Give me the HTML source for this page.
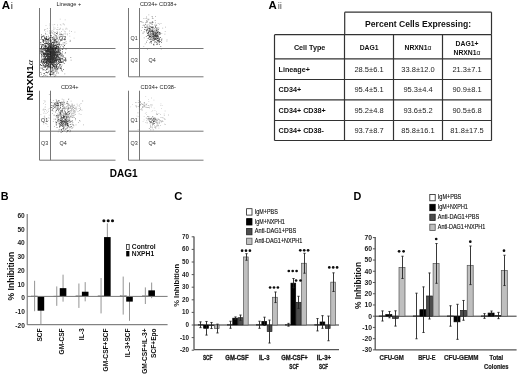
<!DOCTYPE html>
<html><head><meta charset="utf-8"><style>
html,body{margin:0;padding:0;background:#fff;}
svg{display:block;font-family:"Liberation Sans", sans-serif;}
</style></head><body>
<svg width="520" height="375" viewBox="0 0 520 375">
<defs><filter id="soft" x="0" y="0" width="1" height="1"><feGaussianBlur stdDeviation="0.4"/></filter></defs>
<rect width="520" height="375" fill="#fff"/>
<g filter="url(#soft)">
<rect width="520" height="375" fill="#fff"/>
<text x="1.8" y="9.4" font-size="11.6" font-weight="bold" text-anchor="start" fill="#000" >A<tspan font-size="9.8" font-weight="normal" fill="#222" dx="0.6">i</tspan></text>
<line x1="39.50" y1="8.00" x2="39.50" y2="76.80" stroke="#777" stroke-width="1"/>
<line x1="50.50" y1="8.00" x2="50.50" y2="76.80" stroke="#777" stroke-width="1"/>
<line x1="39.50" y1="48.50" x2="115.50" y2="48.50" stroke="#777" stroke-width="1"/>
<line x1="39.50" y1="76.80" x2="115.50" y2="76.80" stroke="#777" stroke-width="1"/>
<text x="56.5" y="6.2" font-size="5.6" font-weight="normal" text-anchor="start" fill="#222" >Lineage +</text>
<text x="41.0" y="39.6" font-size="5.4" font-weight="normal" text-anchor="start" fill="#333" >Q1</text>
<text x="59.0" y="39.6" font-size="5.4" font-weight="normal" text-anchor="start" fill="#333" >Q2</text>
<text x="59.5" y="62.2" font-size="5.4" font-weight="normal" text-anchor="start" fill="#333" >Q4</text>
<path d="M49.2 58.0h.8v.8h-.8zM49.4 51.5h.8v.8h-.8zM45.8 52.3h.8v.8h-.8zM56.1 57.3h.8v.8h-.8zM55.7 55.9h.8v.8h-.8zM52.5 55.4h.8v.8h-.8zM42.2 60.7h.8v.8h-.8zM53.0 57.9h.8v.8h-.8zM42.0 40.4h.8v.8h-.8zM46.1 50.3h.8v.8h-.8zM52.0 53.6h.8v.8h-.8zM53.1 49.0h.8v.8h-.8zM52.0 57.1h.8v.8h-.8zM47.2 67.4h.8v.8h-.8zM53.3 63.3h.8v.8h-.8zM47.4 48.2h.8v.8h-.8zM48.8 53.2h.8v.8h-.8zM53.7 55.9h.8v.8h-.8zM48.3 46.5h.8v.8h-.8zM47.9 63.5h.8v.8h-.8zM46.5 55.9h.8v.8h-.8zM52.6 42.4h.8v.8h-.8zM50.7 64.2h.8v.8h-.8zM40.4 51.5h.8v.8h-.8zM50.0 47.6h.8v.8h-.8zM53.0 53.5h.8v.8h-.8zM43.2 60.5h.8v.8h-.8zM53.8 61.4h.8v.8h-.8zM57.7 56.8h.8v.8h-.8zM51.1 43.9h.8v.8h-.8zM53.6 49.2h.8v.8h-.8zM48.2 44.1h.8v.8h-.8zM45.7 49.9h.8v.8h-.8zM56.9 38.2h.8v.8h-.8zM43.2 55.9h.8v.8h-.8zM57.7 58.5h.8v.8h-.8zM41.0 34.4h.8v.8h-.8zM52.3 48.3h.8v.8h-.8zM44.9 61.6h.8v.8h-.8zM56.0 55.2h.8v.8h-.8zM51.7 57.4h.8v.8h-.8zM58.5 58.8h.8v.8h-.8zM53.1 58.3h.8v.8h-.8zM42.7 64.0h.8v.8h-.8zM55.3 58.1h.8v.8h-.8zM40.6 49.1h.8v.8h-.8zM54.7 39.9h.8v.8h-.8zM49.6 62.0h.8v.8h-.8zM43.9 66.6h.8v.8h-.8zM53.3 52.8h.8v.8h-.8zM52.1 59.1h.8v.8h-.8zM51.1 62.9h.8v.8h-.8zM47.2 50.8h.8v.8h-.8zM55.7 54.2h.8v.8h-.8zM46.1 61.4h.8v.8h-.8zM57.8 50.5h.8v.8h-.8zM43.6 52.9h.8v.8h-.8zM49.8 51.7h.8v.8h-.8zM57.5 46.0h.8v.8h-.8zM56.8 44.1h.8v.8h-.8zM46.6 58.9h.8v.8h-.8zM56.1 60.7h.8v.8h-.8zM52.2 55.1h.8v.8h-.8zM51.3 58.5h.8v.8h-.8zM49.6 56.2h.8v.8h-.8zM53.4 54.0h.8v.8h-.8zM54.3 58.4h.8v.8h-.8zM60.6 56.5h.8v.8h-.8zM48.4 51.1h.8v.8h-.8zM50.4 61.2h.8v.8h-.8zM48.8 57.0h.8v.8h-.8zM59.7 34.0h.8v.8h-.8zM44.9 55.9h.8v.8h-.8zM52.5 55.9h.8v.8h-.8zM48.3 59.1h.8v.8h-.8zM51.9 49.9h.8v.8h-.8zM62.7 56.8h.8v.8h-.8zM47.7 53.2h.8v.8h-.8zM49.4 53.5h.8v.8h-.8zM55.5 44.9h.8v.8h-.8zM50.2 61.4h.8v.8h-.8zM54.8 65.6h.8v.8h-.8zM42.0 51.2h.8v.8h-.8zM48.8 58.9h.8v.8h-.8zM56.0 33.1h.8v.8h-.8zM55.9 42.7h.8v.8h-.8zM53.9 42.4h.8v.8h-.8zM51.4 63.3h.8v.8h-.8zM49.8 55.5h.8v.8h-.8zM54.5 55.1h.8v.8h-.8zM50.1 66.0h.8v.8h-.8zM55.7 51.7h.8v.8h-.8zM64.2 45.1h.8v.8h-.8zM55.1 51.9h.8v.8h-.8zM51.2 59.5h.8v.8h-.8zM51.6 59.0h.8v.8h-.8zM42.9 42.2h.8v.8h-.8zM53.6 46.5h.8v.8h-.8zM45.4 42.5h.8v.8h-.8zM56.8 59.8h.8v.8h-.8zM57.9 46.7h.8v.8h-.8zM50.5 45.1h.8v.8h-.8zM54.3 66.4h.8v.8h-.8zM46.0 66.2h.8v.8h-.8zM55.4 52.6h.8v.8h-.8zM40.6 65.0h.8v.8h-.8zM50.0 49.3h.8v.8h-.8zM52.5 57.2h.8v.8h-.8zM58.0 46.0h.8v.8h-.8zM56.2 65.6h.8v.8h-.8zM57.8 52.6h.8v.8h-.8zM46.8 61.9h.8v.8h-.8zM51.1 55.0h.8v.8h-.8zM57.6 51.9h.8v.8h-.8zM41.2 60.4h.8v.8h-.8zM52.1 49.2h.8v.8h-.8zM50.5 60.5h.8v.8h-.8zM50.9 64.3h.8v.8h-.8zM50.2 62.1h.8v.8h-.8zM58.0 66.6h.8v.8h-.8zM47.1 60.9h.8v.8h-.8zM41.1 45.5h.8v.8h-.8zM40.7 62.3h.8v.8h-.8zM44.3 53.9h.8v.8h-.8zM49.5 53.8h.8v.8h-.8zM47.5 55.8h.8v.8h-.8zM59.5 54.3h.8v.8h-.8zM53.2 61.8h.8v.8h-.8zM49.5 44.2h.8v.8h-.8zM47.7 62.4h.8v.8h-.8zM42.3 49.3h.8v.8h-.8zM55.5 60.2h.8v.8h-.8zM50.5 60.3h.8v.8h-.8zM51.3 44.8h.8v.8h-.8zM42.7 49.0h.8v.8h-.8zM55.1 49.6h.8v.8h-.8zM46.0 48.0h.8v.8h-.8zM42.8 53.1h.8v.8h-.8zM44.6 56.8h.8v.8h-.8zM47.3 38.9h.8v.8h-.8zM54.1 51.9h.8v.8h-.8zM52.0 50.4h.8v.8h-.8zM54.4 59.8h.8v.8h-.8zM53.8 56.5h.8v.8h-.8zM57.2 59.1h.8v.8h-.8zM52.8 37.7h.8v.8h-.8zM55.0 64.2h.8v.8h-.8zM49.0 50.3h.8v.8h-.8zM60.2 40.3h.8v.8h-.8zM52.8 72.9h.8v.8h-.8zM45.9 59.4h.8v.8h-.8zM59.9 53.1h.8v.8h-.8zM53.3 61.0h.8v.8h-.8zM46.0 53.3h.8v.8h-.8zM52.0 60.4h.8v.8h-.8zM50.3 52.5h.8v.8h-.8zM45.4 51.2h.8v.8h-.8zM55.0 54.8h.8v.8h-.8zM46.2 47.4h.8v.8h-.8zM63.8 62.9h.8v.8h-.8zM53.7 33.8h.8v.8h-.8zM53.6 57.7h.8v.8h-.8zM58.9 57.3h.8v.8h-.8zM50.2 58.1h.8v.8h-.8zM40.8 62.1h.8v.8h-.8zM52.1 48.5h.8v.8h-.8zM57.1 68.1h.8v.8h-.8zM43.5 48.8h.8v.8h-.8zM52.0 55.4h.8v.8h-.8zM48.5 46.4h.8v.8h-.8zM61.1 62.1h.8v.8h-.8zM44.5 43.5h.8v.8h-.8zM59.0 61.7h.8v.8h-.8zM59.6 60.3h.8v.8h-.8zM46.1 56.0h.8v.8h-.8zM39.7 48.2h.8v.8h-.8zM50.2 58.1h.8v.8h-.8zM46.9 53.0h.8v.8h-.8zM52.8 56.9h.8v.8h-.8zM53.7 55.6h.8v.8h-.8zM48.9 60.2h.8v.8h-.8zM50.7 47.6h.8v.8h-.8zM47.4 54.0h.8v.8h-.8zM50.0 55.2h.8v.8h-.8zM50.5 55.4h.8v.8h-.8zM49.8 44.2h.8v.8h-.8zM52.6 62.2h.8v.8h-.8zM52.7 52.5h.8v.8h-.8zM52.7 46.5h.8v.8h-.8zM41.0 54.5h.8v.8h-.8zM45.8 59.8h.8v.8h-.8zM45.1 33.5h.8v.8h-.8zM45.3 66.3h.8v.8h-.8zM48.6 43.3h.8v.8h-.8zM46.7 58.1h.8v.8h-.8zM53.0 55.4h.8v.8h-.8zM57.9 59.5h.8v.8h-.8zM50.4 58.7h.8v.8h-.8zM58.8 61.6h.8v.8h-.8zM55.6 45.6h.8v.8h-.8zM49.8 59.7h.8v.8h-.8zM49.0 62.3h.8v.8h-.8zM53.5 61.1h.8v.8h-.8zM49.4 73.9h.8v.8h-.8zM56.7 52.3h.8v.8h-.8zM51.0 74.2h.8v.8h-.8zM48.8 60.8h.8v.8h-.8zM55.4 54.1h.8v.8h-.8zM44.7 55.5h.8v.8h-.8zM52.3 62.8h.8v.8h-.8zM54.4 54.2h.8v.8h-.8zM54.8 58.2h.8v.8h-.8zM51.5 54.4h.8v.8h-.8zM49.3 59.4h.8v.8h-.8zM45.2 49.1h.8v.8h-.8zM50.5 42.6h.8v.8h-.8zM48.3 38.3h.8v.8h-.8zM47.1 58.4h.8v.8h-.8zM53.3 53.6h.8v.8h-.8zM49.3 42.9h.8v.8h-.8zM59.6 58.0h.8v.8h-.8zM56.0 47.1h.8v.8h-.8zM49.6 39.8h.8v.8h-.8zM54.4 61.3h.8v.8h-.8zM41.0 53.6h.8v.8h-.8zM53.7 40.3h.8v.8h-.8zM41.4 45.7h.8v.8h-.8zM47.4 43.1h.8v.8h-.8zM50.7 55.9h.8v.8h-.8zM53.7 59.5h.8v.8h-.8zM58.0 63.1h.8v.8h-.8zM43.9 50.1h.8v.8h-.8zM45.2 45.6h.8v.8h-.8zM50.1 54.0h.8v.8h-.8zM53.0 41.6h.8v.8h-.8zM44.3 53.8h.8v.8h-.8zM49.5 51.6h.8v.8h-.8zM50.2 48.1h.8v.8h-.8zM54.0 56.8h.8v.8h-.8zM50.1 48.8h.8v.8h-.8zM49.6 32.8h.8v.8h-.8zM45.6 54.3h.8v.8h-.8zM43.0 55.6h.8v.8h-.8zM51.2 43.3h.8v.8h-.8zM49.2 51.6h.8v.8h-.8zM52.8 58.8h.8v.8h-.8zM50.3 47.4h.8v.8h-.8zM49.8 53.5h.8v.8h-.8zM54.2 56.3h.8v.8h-.8zM46.9 43.4h.8v.8h-.8zM48.6 48.2h.8v.8h-.8zM44.9 53.1h.8v.8h-.8zM48.0 54.8h.8v.8h-.8zM53.1 50.8h.8v.8h-.8zM62.1 51.5h.8v.8h-.8zM56.0 54.9h.8v.8h-.8zM56.1 35.5h.8v.8h-.8zM46.7 55.9h.8v.8h-.8zM53.5 72.2h.8v.8h-.8zM52.1 64.0h.8v.8h-.8zM54.3 61.4h.8v.8h-.8zM53.1 52.8h.8v.8h-.8zM53.0 45.6h.8v.8h-.8zM56.4 46.1h.8v.8h-.8zM51.7 70.5h.8v.8h-.8zM49.4 54.2h.8v.8h-.8zM56.3 54.2h.8v.8h-.8zM46.5 56.0h.8v.8h-.8zM53.4 59.5h.8v.8h-.8zM46.6 67.7h.8v.8h-.8zM58.8 54.1h.8v.8h-.8zM51.8 50.7h.8v.8h-.8zM57.6 48.5h.8v.8h-.8zM53.9 50.3h.8v.8h-.8zM47.0 59.6h.8v.8h-.8zM57.2 53.9h.8v.8h-.8zM47.1 60.3h.8v.8h-.8zM50.3 56.4h.8v.8h-.8zM58.1 62.8h.8v.8h-.8zM47.9 71.8h.8v.8h-.8zM50.5 60.1h.8v.8h-.8zM47.3 53.7h.8v.8h-.8zM41.8 67.9h.8v.8h-.8zM57.3 44.5h.8v.8h-.8zM43.0 41.4h.8v.8h-.8zM56.4 50.4h.8v.8h-.8zM50.2 51.6h.8v.8h-.8zM49.9 45.5h.8v.8h-.8zM50.6 42.8h.8v.8h-.8zM50.1 56.4h.8v.8h-.8zM52.8 52.2h.8v.8h-.8zM46.0 55.2h.8v.8h-.8zM48.1 66.2h.8v.8h-.8zM54.3 53.1h.8v.8h-.8zM48.1 48.5h.8v.8h-.8zM45.8 51.2h.8v.8h-.8zM52.0 58.0h.8v.8h-.8zM53.3 70.4h.8v.8h-.8zM47.0 54.1h.8v.8h-.8zM64.5 39.4h.8v.8h-.8zM47.9 55.3h.8v.8h-.8zM51.3 57.2h.8v.8h-.8zM49.3 56.9h.8v.8h-.8zM50.8 60.0h.8v.8h-.8zM41.0 47.1h.8v.8h-.8zM50.5 46.0h.8v.8h-.8zM45.3 58.9h.8v.8h-.8zM47.3 59.0h.8v.8h-.8zM54.2 56.4h.8v.8h-.8zM53.0 53.2h.8v.8h-.8zM43.5 53.8h.8v.8h-.8zM52.8 49.9h.8v.8h-.8zM50.0 59.8h.8v.8h-.8zM46.1 59.0h.8v.8h-.8zM59.8 49.7h.8v.8h-.8zM51.2 52.8h.8v.8h-.8zM58.2 56.5h.8v.8h-.8zM55.0 48.6h.8v.8h-.8zM50.4 53.9h.8v.8h-.8zM41.6 65.2h.8v.8h-.8zM55.0 40.4h.8v.8h-.8zM54.2 53.0h.8v.8h-.8zM52.7 56.9h.8v.8h-.8zM43.0 52.3h.8v.8h-.8zM58.0 49.5h.8v.8h-.8zM45.4 43.4h.8v.8h-.8zM44.4 56.6h.8v.8h-.8zM59.0 57.3h.8v.8h-.8zM51.7 71.4h.8v.8h-.8zM47.9 48.7h.8v.8h-.8zM53.1 58.3h.8v.8h-.8zM45.4 44.9h.8v.8h-.8zM52.0 55.9h.8v.8h-.8zM44.0 52.4h.8v.8h-.8zM47.8 57.6h.8v.8h-.8zM49.9 53.3h.8v.8h-.8zM48.7 62.2h.8v.8h-.8zM57.5 51.1h.8v.8h-.8zM54.7 48.1h.8v.8h-.8zM50.9 59.8h.8v.8h-.8zM58.1 51.0h.8v.8h-.8zM50.1 55.5h.8v.8h-.8zM43.0 54.1h.8v.8h-.8zM47.1 56.9h.8v.8h-.8zM44.9 38.6h.8v.8h-.8zM50.7 56.0h.8v.8h-.8zM47.8 60.9h.8v.8h-.8zM49.1 49.3h.8v.8h-.8zM52.9 41.8h.8v.8h-.8zM47.1 53.8h.8v.8h-.8zM54.7 52.7h.8v.8h-.8zM52.0 48.9h.8v.8h-.8zM52.0 67.0h.8v.8h-.8zM47.1 72.5h.8v.8h-.8zM47.3 54.1h.8v.8h-.8zM51.4 62.0h.8v.8h-.8zM44.3 37.6h.8v.8h-.8zM53.5 60.2h.8v.8h-.8zM53.6 74.5h.8v.8h-.8zM51.5 56.0h.8v.8h-.8zM55.1 56.9h.8v.8h-.8zM58.8 44.3h.8v.8h-.8zM54.6 51.1h.8v.8h-.8zM55.1 70.8h.8v.8h-.8zM50.5 52.0h.8v.8h-.8zM48.0 47.5h.8v.8h-.8zM47.3 59.0h.8v.8h-.8zM50.7 54.5h.8v.8h-.8zM49.6 61.1h.8v.8h-.8zM53.0 52.9h.8v.8h-.8zM53.8 52.8h.8v.8h-.8zM44.7 65.4h.8v.8h-.8zM52.8 46.5h.8v.8h-.8zM55.9 56.7h.8v.8h-.8zM42.7 66.6h.8v.8h-.8zM52.2 61.0h.8v.8h-.8zM51.5 52.8h.8v.8h-.8zM42.8 61.6h.8v.8h-.8zM50.7 51.8h.8v.8h-.8zM52.3 54.6h.8v.8h-.8zM53.9 51.1h.8v.8h-.8zM50.3 37.3h.8v.8h-.8zM48.4 59.3h.8v.8h-.8zM57.2 51.2h.8v.8h-.8zM49.9 66.4h.8v.8h-.8zM48.9 59.7h.8v.8h-.8zM58.9 54.3h.8v.8h-.8zM56.6 48.5h.8v.8h-.8zM51.5 53.4h.8v.8h-.8zM51.1 62.8h.8v.8h-.8zM62.4 48.8h.8v.8h-.8zM47.6 57.9h.8v.8h-.8zM45.2 57.9h.8v.8h-.8zM53.4 51.8h.8v.8h-.8zM53.2 41.9h.8v.8h-.8zM54.3 42.0h.8v.8h-.8zM47.0 49.7h.8v.8h-.8zM48.5 60.7h.8v.8h-.8zM50.9 50.9h.8v.8h-.8zM53.2 66.3h.8v.8h-.8zM50.5 56.9h.8v.8h-.8zM56.7 56.1h.8v.8h-.8zM44.1 73.4h.8v.8h-.8zM61.5 38.5h.8v.8h-.8zM50.3 57.3h.8v.8h-.8zM55.3 59.2h.8v.8h-.8zM49.1 45.8h.8v.8h-.8zM51.0 62.1h.8v.8h-.8zM45.1 46.0h.8v.8h-.8zM50.4 38.9h.8v.8h-.8zM49.2 50.6h.8v.8h-.8zM52.8 48.5h.8v.8h-.8zM46.1 50.9h.8v.8h-.8zM50.3 48.8h.8v.8h-.8zM50.6 59.9h.8v.8h-.8zM56.4 67.3h.8v.8h-.8zM46.6 50.7h.8v.8h-.8zM46.9 53.7h.8v.8h-.8zM53.1 43.4h.8v.8h-.8zM52.8 53.8h.8v.8h-.8zM41.4 56.3h.8v.8h-.8zM56.5 39.4h.8v.8h-.8zM54.5 55.6h.8v.8h-.8zM52.9 57.4h.8v.8h-.8zM57.0 52.3h.8v.8h-.8zM54.9 50.8h.8v.8h-.8zM54.1 47.7h.8v.8h-.8zM50.0 67.5h.8v.8h-.8zM52.7 52.8h.8v.8h-.8zM44.8 47.8h.8v.8h-.8zM51.5 61.3h.8v.8h-.8zM52.6 58.1h.8v.8h-.8zM50.3 64.5h.8v.8h-.8zM48.5 49.7h.8v.8h-.8zM54.9 54.5h.8v.8h-.8zM49.1 49.5h.8v.8h-.8zM49.2 58.9h.8v.8h-.8zM52.3 44.6h.8v.8h-.8zM52.6 55.4h.8v.8h-.8zM45.5 60.0h.8v.8h-.8zM49.1 51.4h.8v.8h-.8zM54.5 64.3h.8v.8h-.8zM47.1 57.4h.8v.8h-.8zM46.1 72.1h.8v.8h-.8zM48.0 63.3h.8v.8h-.8zM47.3 60.3h.8v.8h-.8zM61.6 34.2h.8v.8h-.8zM48.3 57.9h.8v.8h-.8zM50.0 48.8h.8v.8h-.8zM61.3 54.6h.8v.8h-.8zM42.3 60.7h.8v.8h-.8zM41.9 63.0h.8v.8h-.8zM47.6 55.1h.8v.8h-.8zM56.8 54.9h.8v.8h-.8zM43.5 40.8h.8v.8h-.8zM56.4 59.8h.8v.8h-.8zM46.4 60.7h.8v.8h-.8zM53.0 59.1h.8v.8h-.8zM55.0 59.7h.8v.8h-.8zM54.9 34.8h.8v.8h-.8zM51.3 57.8h.8v.8h-.8zM63.3 46.6h.8v.8h-.8zM48.9 54.3h.8v.8h-.8zM54.9 50.5h.8v.8h-.8zM56.2 47.9h.8v.8h-.8zM51.8 49.9h.8v.8h-.8zM51.3 48.6h.8v.8h-.8zM42.5 62.5h.8v.8h-.8zM52.0 49.6h.8v.8h-.8zM51.5 61.7h.8v.8h-.8zM45.6 53.1h.8v.8h-.8zM53.2 58.1h.8v.8h-.8zM48.8 37.6h.8v.8h-.8zM56.7 56.6h.8v.8h-.8zM50.6 51.8h.8v.8h-.8zM51.8 50.7h.8v.8h-.8zM45.4 48.2h.8v.8h-.8zM47.5 49.2h.8v.8h-.8zM44.7 59.0h.8v.8h-.8zM44.0 59.1h.8v.8h-.8zM45.4 56.7h.8v.8h-.8zM57.4 55.6h.8v.8h-.8zM46.8 54.4h.8v.8h-.8zM51.2 40.5h.8v.8h-.8zM47.5 55.3h.8v.8h-.8zM48.2 54.6h.8v.8h-.8zM54.2 60.0h.8v.8h-.8zM55.0 58.6h.8v.8h-.8zM49.1 53.9h.8v.8h-.8zM49.1 51.6h.8v.8h-.8zM49.6 40.5h.8v.8h-.8zM48.8 53.8h.8v.8h-.8zM45.6 53.8h.8v.8h-.8zM53.1 52.7h.8v.8h-.8zM60.9 33.7h.8v.8h-.8zM49.5 39.8h.8v.8h-.8zM55.4 74.7h.8v.8h-.8zM53.1 51.6h.8v.8h-.8zM53.3 36.5h.8v.8h-.8zM54.8 56.9h.8v.8h-.8zM50.6 49.4h.8v.8h-.8zM53.7 50.2h.8v.8h-.8zM51.6 50.0h.8v.8h-.8zM51.5 59.9h.8v.8h-.8zM46.1 53.7h.8v.8h-.8zM53.6 55.1h.8v.8h-.8zM56.7 69.5h.8v.8h-.8zM46.0 39.0h.8v.8h-.8zM54.8 65.9h.8v.8h-.8zM55.1 60.3h.8v.8h-.8zM47.4 48.4h.8v.8h-.8zM54.9 46.9h.8v.8h-.8zM41.4 46.2h.8v.8h-.8zM63.0 69.0h.8v.8h-.8zM47.1 48.3h.8v.8h-.8zM51.7 48.2h.8v.8h-.8zM57.1 53.4h.8v.8h-.8zM45.1 64.2h.8v.8h-.8zM47.6 55.7h.8v.8h-.8zM50.4 51.5h.8v.8h-.8zM52.1 48.6h.8v.8h-.8zM41.3 36.8h.8v.8h-.8zM44.2 48.1h.8v.8h-.8zM50.4 54.4h.8v.8h-.8zM53.3 54.9h.8v.8h-.8zM46.5 48.5h.8v.8h-.8zM39.9 52.7h.8v.8h-.8zM52.9 58.1h.8v.8h-.8zM49.9 52.6h.8v.8h-.8zM55.2 54.1h.8v.8h-.8zM54.2 58.5h.8v.8h-.8zM51.6 64.2h.8v.8h-.8zM47.6 51.2h.8v.8h-.8zM46.5 47.8h.8v.8h-.8zM58.3 67.7h.8v.8h-.8zM50.6 58.4h.8v.8h-.8zM56.4 60.3h.8v.8h-.8zM56.5 44.1h.8v.8h-.8zM47.3 57.5h.8v.8h-.8zM57.7 54.8h.8v.8h-.8zM46.2 51.2h.8v.8h-.8zM47.2 47.3h.8v.8h-.8zM58.0 49.1h.8v.8h-.8zM50.6 70.9h.8v.8h-.8zM56.4 56.6h.8v.8h-.8zM47.4 57.2h.8v.8h-.8zM58.6 58.9h.8v.8h-.8zM56.8 54.8h.8v.8h-.8zM53.1 52.4h.8v.8h-.8zM52.6 64.1h.8v.8h-.8zM43.3 53.5h.8v.8h-.8zM51.7 49.5h.8v.8h-.8zM49.0 60.1h.8v.8h-.8zM60.5 58.9h.8v.8h-.8zM52.1 41.9h.8v.8h-.8zM60.1 54.6h.8v.8h-.8zM50.3 45.3h.8v.8h-.8zM50.2 45.5h.8v.8h-.8zM50.9 57.6h.8v.8h-.8zM50.7 56.2h.8v.8h-.8zM46.2 65.2h.8v.8h-.8zM47.2 39.8h.8v.8h-.8zM49.6 48.0h.8v.8h-.8zM45.5 51.2h.8v.8h-.8zM52.0 44.8h.8v.8h-.8zM49.8 65.1h.8v.8h-.8zM53.9 52.8h.8v.8h-.8zM51.1 53.1h.8v.8h-.8zM50.3 59.7h.8v.8h-.8zM50.0 35.2h.8v.8h-.8zM50.4 47.1h.8v.8h-.8zM53.8 49.2h.8v.8h-.8zM51.2 71.0h.8v.8h-.8zM45.3 45.2h.8v.8h-.8zM43.4 35.3h.8v.8h-.8zM41.1 56.8h.8v.8h-.8zM47.3 39.4h.8v.8h-.8zM43.1 58.8h.8v.8h-.8zM46.6 51.1h.8v.8h-.8zM52.2 64.6h.8v.8h-.8zM60.2 62.1h.8v.8h-.8zM51.2 55.4h.8v.8h-.8zM59.5 65.1h.8v.8h-.8zM48.9 57.6h.8v.8h-.8zM51.9 54.4h.8v.8h-.8zM48.0 43.7h.8v.8h-.8zM47.8 42.0h.8v.8h-.8zM56.6 58.2h.8v.8h-.8zM44.5 64.9h.8v.8h-.8zM55.0 39.1h.8v.8h-.8zM59.7 60.3h.8v.8h-.8zM60.8 44.4h.8v.8h-.8zM53.2 57.3h.8v.8h-.8zM51.5 55.3h.8v.8h-.8zM55.8 42.3h.8v.8h-.8zM44.3 43.1h.8v.8h-.8zM47.7 49.3h.8v.8h-.8zM52.3 56.1h.8v.8h-.8zM50.7 48.7h.8v.8h-.8zM48.3 61.4h.8v.8h-.8zM54.3 54.8h.8v.8h-.8zM48.9 66.1h.8v.8h-.8zM47.5 59.1h.8v.8h-.8zM56.3 51.9h.8v.8h-.8zM54.6 45.3h.8v.8h-.8zM55.6 55.6h.8v.8h-.8zM42.6 59.2h.8v.8h-.8zM46.0 64.0h.8v.8h-.8zM47.1 52.7h.8v.8h-.8zM51.9 51.4h.8v.8h-.8zM51.8 49.7h.8v.8h-.8zM53.9 54.0h.8v.8h-.8zM51.6 32.5h.8v.8h-.8zM56.3 54.2h.8v.8h-.8zM41.6 54.7h.8v.8h-.8zM52.8 62.4h.8v.8h-.8zM45.1 66.1h.8v.8h-.8zM49.7 72.7h.8v.8h-.8zM49.8 59.3h.8v.8h-.8zM48.7 45.3h.8v.8h-.8zM56.0 61.1h.8v.8h-.8zM58.2 60.7h.8v.8h-.8zM47.6 41.0h.8v.8h-.8zM47.2 48.7h.8v.8h-.8zM46.4 58.5h.8v.8h-.8zM52.1 51.9h.8v.8h-.8zM51.4 52.9h.8v.8h-.8zM51.6 59.9h.8v.8h-.8zM55.3 48.6h.8v.8h-.8zM43.0 65.1h.8v.8h-.8zM51.1 62.6h.8v.8h-.8zM42.3 51.4h.8v.8h-.8zM50.6 42.8h.8v.8h-.8zM47.9 59.7h.8v.8h-.8zM55.9 66.4h.8v.8h-.8zM46.2 43.1h.8v.8h-.8zM53.1 61.3h.8v.8h-.8zM51.5 43.8h.8v.8h-.8zM54.4 60.2h.8v.8h-.8zM53.3 50.2h.8v.8h-.8zM52.0 60.2h.8v.8h-.8zM47.7 39.6h.8v.8h-.8zM52.1 57.8h.8v.8h-.8zM50.6 60.9h.8v.8h-.8zM47.6 53.4h.8v.8h-.8zM49.0 58.5h.8v.8h-.8zM58.5 52.0h.8v.8h-.8zM60.8 65.9h.8v.8h-.8zM54.5 58.6h.8v.8h-.8zM59.4 52.6h.8v.8h-.8zM49.9 45.7h.8v.8h-.8zM52.9 64.5h.8v.8h-.8zM53.2 57.3h.8v.8h-.8zM49.5 55.3h.8v.8h-.8zM43.4 62.2h.8v.8h-.8zM48.5 45.4h.8v.8h-.8zM46.7 47.6h.8v.8h-.8zM54.8 62.3h.8v.8h-.8zM43.7 61.2h.8v.8h-.8zM54.9 49.5h.8v.8h-.8zM43.1 48.2h.8v.8h-.8zM47.3 56.7h.8v.8h-.8zM48.7 38.2h.8v.8h-.8zM51.7 42.0h.8v.8h-.8zM55.0 44.6h.8v.8h-.8zM47.0 47.3h.8v.8h-.8zM47.8 64.1h.8v.8h-.8zM54.8 58.7h.8v.8h-.8zM52.1 41.9h.8v.8h-.8zM47.9 49.7h.8v.8h-.8zM45.6 58.0h.8v.8h-.8zM46.8 48.5h.8v.8h-.8zM45.3 38.0h.8v.8h-.8zM53.5 64.4h.8v.8h-.8zM51.4 46.4h.8v.8h-.8zM56.6 56.3h.8v.8h-.8zM55.1 65.5h.8v.8h-.8zM56.1 50.6h.8v.8h-.8zM55.8 60.1h.8v.8h-.8zM42.8 50.8h.8v.8h-.8zM43.4 53.1h.8v.8h-.8zM53.4 45.7h.8v.8h-.8zM40.2 64.1h.8v.8h-.8zM52.4 65.5h.8v.8h-.8zM43.9 62.3h.8v.8h-.8zM60.9 69.7h.8v.8h-.8zM49.4 56.1h.8v.8h-.8zM49.7 61.8h.8v.8h-.8zM55.7 54.7h.8v.8h-.8zM43.7 59.8h.8v.8h-.8zM48.2 58.9h.8v.8h-.8zM51.8 66.7h.8v.8h-.8zM56.2 50.5h.8v.8h-.8zM52.2 67.8h.8v.8h-.8zM47.8 57.4h.8v.8h-.8zM56.5 63.8h.8v.8h-.8zM53.1 43.7h.8v.8h-.8zM44.2 55.9h.8v.8h-.8zM52.4 73.9h.8v.8h-.8zM46.2 62.9h.8v.8h-.8zM54.4 41.0h.8v.8h-.8zM46.4 55.3h.8v.8h-.8zM48.0 52.8h.8v.8h-.8zM52.9 47.7h.8v.8h-.8zM52.8 49.0h.8v.8h-.8zM47.8 58.2h.8v.8h-.8zM47.6 56.2h.8v.8h-.8zM58.5 54.2h.8v.8h-.8zM49.8 59.7h.8v.8h-.8zM48.7 62.4h.8v.8h-.8zM44.1 58.8h.8v.8h-.8zM47.9 47.8h.8v.8h-.8zM59.3 47.4h.8v.8h-.8zM59.3 59.1h.8v.8h-.8zM57.8 46.4h.8v.8h-.8zM56.5 65.4h.8v.8h-.8zM49.9 53.0h.8v.8h-.8zM62.8 55.4h.8v.8h-.8zM48.4 49.1h.8v.8h-.8zM52.7 56.6h.8v.8h-.8zM51.4 67.4h.8v.8h-.8zM48.9 57.7h.8v.8h-.8zM57.8 46.2h.8v.8h-.8zM55.7 68.3h.8v.8h-.8zM43.7 45.4h.8v.8h-.8zM45.3 39.6h.8v.8h-.8zM52.8 39.5h.8v.8h-.8zM53.0 65.3h.8v.8h-.8zM42.4 51.5h.8v.8h-.8zM40.9 60.1h.8v.8h-.8zM46.8 51.9h.8v.8h-.8zM50.8 58.3h.8v.8h-.8zM48.8 54.1h.8v.8h-.8zM47.8 54.9h.8v.8h-.8zM44.6 54.5h.8v.8h-.8zM40.8 50.2h.8v.8h-.8zM60.1 54.6h.8v.8h-.8zM44.2 56.0h.8v.8h-.8zM45.6 41.1h.8v.8h-.8zM46.8 59.7h.8v.8h-.8zM52.4 53.2h.8v.8h-.8zM45.9 45.6h.8v.8h-.8zM57.2 55.9h.8v.8h-.8zM45.7 37.5h.8v.8h-.8zM43.7 73.3h.8v.8h-.8zM44.8 53.4h.8v.8h-.8zM51.6 52.8h.8v.8h-.8zM49.1 43.3h.8v.8h-.8zM45.2 67.2h.8v.8h-.8zM46.7 60.6h.8v.8h-.8zM42.0 51.9h.8v.8h-.8zM51.8 62.1h.8v.8h-.8zM44.9 58.6h.8v.8h-.8zM52.4 48.2h.8v.8h-.8zM52.9 47.0h.8v.8h-.8zM46.5 53.9h.8v.8h-.8zM45.5 42.6h.8v.8h-.8zM48.4 60.0h.8v.8h-.8zM48.5 63.9h.8v.8h-.8zM44.7 43.8h.8v.8h-.8zM58.3 57.1h.8v.8h-.8zM55.2 47.6h.8v.8h-.8zM54.5 56.0h.8v.8h-.8zM53.7 54.2h.8v.8h-.8zM56.5 48.9h.8v.8h-.8zM45.7 42.5h.8v.8h-.8zM56.3 48.2h.8v.8h-.8zM45.3 46.7h.8v.8h-.8zM48.3 44.1h.8v.8h-.8zM49.0 49.1h.8v.8h-.8zM47.7 46.5h.8v.8h-.8zM50.7 50.4h.8v.8h-.8zM51.1 55.9h.8v.8h-.8zM52.2 36.9h.8v.8h-.8zM47.8 47.8h.8v.8h-.8zM54.4 41.7h.8v.8h-.8zM46.9 51.7h.8v.8h-.8zM48.8 61.7h.8v.8h-.8zM48.3 61.5h.8v.8h-.8zM43.2 39.9h.8v.8h-.8zM56.6 57.4h.8v.8h-.8zM52.9 55.0h.8v.8h-.8zM52.9 44.5h.8v.8h-.8zM55.2 49.8h.8v.8h-.8zM55.4 54.7h.8v.8h-.8zM40.6 44.0h.8v.8h-.8zM56.1 52.9h.8v.8h-.8zM48.5 55.9h.8v.8h-.8zM48.4 49.8h.8v.8h-.8zM51.0 55.1h.8v.8h-.8zM58.1 54.4h.8v.8h-.8zM59.9 68.1h.8v.8h-.8zM59.1 62.3h.8v.8h-.8zM51.2 55.1h.8v.8h-.8zM49.8 48.3h.8v.8h-.8zM50.2 49.0h.8v.8h-.8zM58.7 58.2h.8v.8h-.8zM48.3 39.1h.8v.8h-.8zM50.2 50.8h.8v.8h-.8zM45.1 45.1h.8v.8h-.8zM50.2 74.1h.8v.8h-.8zM50.3 52.8h.8v.8h-.8zM57.7 55.0h.8v.8h-.8zM51.3 51.1h.8v.8h-.8zM47.5 65.7h.8v.8h-.8zM55.5 67.4h.8v.8h-.8zM48.8 54.2h.8v.8h-.8zM46.1 61.5h.8v.8h-.8zM43.5 58.4h.8v.8h-.8zM56.0 65.0h.8v.8h-.8zM45.8 62.5h.8v.8h-.8zM46.9 48.1h.8v.8h-.8zM43.9 63.0h.8v.8h-.8zM58.7 49.4h.8v.8h-.8zM46.7 51.4h.8v.8h-.8zM63.0 61.8h.8v.8h-.8zM47.8 40.0h.8v.8h-.8zM47.1 63.3h.8v.8h-.8zM59.8 51.9h.8v.8h-.8zM47.0 50.0h.8v.8h-.8zM41.1 61.1h.8v.8h-.8zM45.1 62.3h.8v.8h-.8zM42.0 44.1h.8v.8h-.8zM51.9 48.0h.8v.8h-.8zM54.4 54.1h.8v.8h-.8zM44.6 58.9h.8v.8h-.8zM54.7 39.1h.8v.8h-.8zM59.6 57.9h.8v.8h-.8zM54.3 39.5h.8v.8h-.8zM46.9 51.3h.8v.8h-.8zM55.9 42.6h.8v.8h-.8zM46.1 38.2h.8v.8h-.8zM49.3 56.7h.8v.8h-.8zM42.1 49.4h.8v.8h-.8zM53.1 66.4h.8v.8h-.8zM53.8 51.6h.8v.8h-.8zM44.6 46.7h.8v.8h-.8zM47.2 55.1h.8v.8h-.8zM50.3 67.0h.8v.8h-.8zM51.9 45.6h.8v.8h-.8zM58.2 61.4h.8v.8h-.8zM51.0 48.4h.8v.8h-.8zM41.1 46.0h.8v.8h-.8zM55.1 47.7h.8v.8h-.8zM43.9 55.5h.8v.8h-.8zM51.7 58.7h.8v.8h-.8zM53.8 65.0h.8v.8h-.8zM46.3 61.6h.8v.8h-.8zM45.6 59.4h.8v.8h-.8zM51.4 55.9h.8v.8h-.8zM55.3 53.9h.8v.8h-.8zM56.1 60.8h.8v.8h-.8zM51.2 49.6h.8v.8h-.8zM46.7 49.9h.8v.8h-.8zM49.5 53.8h.8v.8h-.8zM65.4 59.0h.8v.8h-.8zM54.3 47.3h.8v.8h-.8zM46.9 51.5h.8v.8h-.8zM51.5 45.9h.8v.8h-.8zM58.6 49.6h.8v.8h-.8zM55.9 35.8h.8v.8h-.8zM50.5 56.2h.8v.8h-.8zM51.5 58.7h.8v.8h-.8zM51.9 55.3h.8v.8h-.8zM41.0 48.4h.8v.8h-.8zM52.0 52.5h.8v.8h-.8zM46.4 49.5h.8v.8h-.8zM59.7 67.5h.8v.8h-.8zM50.2 64.0h.8v.8h-.8zM42.6 38.9h.8v.8h-.8zM48.1 47.2h.8v.8h-.8zM47.7 55.5h.8v.8h-.8zM65.6 48.8h.8v.8h-.8zM50.7 56.2h.8v.8h-.8zM50.3 61.3h.8v.8h-.8zM59.4 44.3h.8v.8h-.8zM51.3 51.9h.8v.8h-.8zM52.3 42.1h.8v.8h-.8zM41.7 35.9h.8v.8h-.8zM53.1 55.5h.8v.8h-.8zM50.9 35.5h.8v.8h-.8zM48.6 48.1h.8v.8h-.8zM43.4 46.9h.8v.8h-.8zM54.0 58.2h.8v.8h-.8zM50.4 58.0h.8v.8h-.8zM47.5 54.6h.8v.8h-.8zM50.7 58.3h.8v.8h-.8zM50.2 52.9h.8v.8h-.8zM49.8 49.0h.8v.8h-.8zM61.7 58.0h.8v.8h-.8zM52.6 71.9h.8v.8h-.8zM57.5 41.9h.8v.8h-.8zM54.0 60.5h.8v.8h-.8zM59.9 64.3h.8v.8h-.8zM54.4 44.8h.8v.8h-.8zM46.1 56.1h.8v.8h-.8zM53.0 46.0h.8v.8h-.8zM48.6 50.9h.8v.8h-.8zM50.8 56.6h.8v.8h-.8zM49.1 44.4h.8v.8h-.8zM56.7 66.4h.8v.8h-.8zM50.0 62.0h.8v.8h-.8zM52.7 59.1h.8v.8h-.8zM52.9 48.0h.8v.8h-.8zM53.4 61.9h.8v.8h-.8zM46.0 69.3h.8v.8h-.8zM60.9 68.2h.8v.8h-.8zM60.4 59.8h.8v.8h-.8zM48.8 49.3h.8v.8h-.8zM46.4 54.9h.8v.8h-.8zM50.3 59.2h.8v.8h-.8zM40.4 72.0h.8v.8h-.8zM61.9 53.8h.8v.8h-.8zM53.9 57.7h.8v.8h-.8zM51.9 52.4h.8v.8h-.8zM49.9 47.6h.8v.8h-.8zM51.4 53.8h.8v.8h-.8zM52.1 47.3h.8v.8h-.8zM50.7 54.4h.8v.8h-.8zM53.5 45.7h.8v.8h-.8zM52.6 61.7h.8v.8h-.8zM53.5 51.1h.8v.8h-.8zM48.0 52.2h.8v.8h-.8zM54.1 66.1h.8v.8h-.8zM49.7 49.0h.8v.8h-.8zM52.4 55.6h.8v.8h-.8zM46.0 48.2h.8v.8h-.8zM50.0 59.2h.8v.8h-.8zM44.5 46.1h.8v.8h-.8zM53.0 44.4h.8v.8h-.8zM51.0 56.7h.8v.8h-.8zM49.9 46.1h.8v.8h-.8zM50.2 51.4h.8v.8h-.8zM52.2 47.5h.8v.8h-.8zM56.0 40.9h.8v.8h-.8zM49.6 54.1h.8v.8h-.8zM55.3 49.3h.8v.8h-.8zM53.2 49.6h.8v.8h-.8zM54.2 67.6h.8v.8h-.8zM48.5 57.5h.8v.8h-.8zM45.9 61.6h.8v.8h-.8zM56.6 54.3h.8v.8h-.8zM44.8 57.1h.8v.8h-.8zM56.2 62.5h.8v.8h-.8zM54.6 39.7h.8v.8h-.8zM47.1 65.1h.8v.8h-.8zM44.4 62.8h.8v.8h-.8zM59.9 59.9h.8v.8h-.8zM56.1 51.4h.8v.8h-.8zM44.4 53.2h.8v.8h-.8zM49.5 53.6h.8v.8h-.8zM54.0 52.9h.8v.8h-.8zM51.5 57.3h.8v.8h-.8zM50.5 68.4h.8v.8h-.8zM52.7 54.7h.8v.8h-.8zM49.5 49.1h.8v.8h-.8zM57.2 55.2h.8v.8h-.8zM45.1 49.6h.8v.8h-.8zM49.8 50.5h.8v.8h-.8zM55.9 44.9h.8v.8h-.8zM53.0 55.1h.8v.8h-.8zM44.6 54.4h.8v.8h-.8zM50.0 57.9h.8v.8h-.8zM48.2 56.4h.8v.8h-.8zM42.2 45.5h.8v.8h-.8zM54.4 62.1h.8v.8h-.8zM50.4 49.3h.8v.8h-.8zM55.9 37.7h.8v.8h-.8zM46.5 59.2h.8v.8h-.8zM53.8 45.9h.8v.8h-.8zM41.1 65.3h.8v.8h-.8zM51.3 47.0h.8v.8h-.8zM50.8 61.0h.8v.8h-.8zM54.2 37.8h.8v.8h-.8zM54.4 40.1h.8v.8h-.8zM56.2 57.1h.8v.8h-.8zM61.8 49.2h.8v.8h-.8zM50.5 62.2h.8v.8h-.8zM47.3 48.5h.8v.8h-.8zM48.6 53.4h.8v.8h-.8zM45.1 57.8h.8v.8h-.8zM53.2 54.6h.8v.8h-.8zM59.0 51.4h.8v.8h-.8zM57.0 49.7h.8v.8h-.8zM54.3 38.9h.8v.8h-.8zM51.5 52.6h.8v.8h-.8zM48.0 49.2h.8v.8h-.8zM48.8 48.4h.8v.8h-.8zM47.8 49.9h.8v.8h-.8zM45.2 52.9h.8v.8h-.8zM54.4 52.0h.8v.8h-.8zM48.0 64.6h.8v.8h-.8zM55.4 61.2h.8v.8h-.8zM56.3 51.4h.8v.8h-.8zM49.9 62.7h.8v.8h-.8zM47.7 53.1h.8v.8h-.8zM52.4 56.9h.8v.8h-.8zM49.1 61.7h.8v.8h-.8zM49.6 59.7h.8v.8h-.8zM55.9 59.1h.8v.8h-.8zM54.2 45.0h.8v.8h-.8zM43.9 49.2h.8v.8h-.8zM52.9 65.7h.8v.8h-.8zM44.4 56.4h.8v.8h-.8zM46.2 48.3h.8v.8h-.8zM49.1 59.4h.8v.8h-.8zM51.6 63.2h.8v.8h-.8zM45.6 60.9h.8v.8h-.8zM55.2 54.5h.8v.8h-.8zM52.9 49.6h.8v.8h-.8zM45.1 50.8h.8v.8h-.8zM48.1 66.9h.8v.8h-.8zM51.5 56.4h.8v.8h-.8zM54.2 47.9h.8v.8h-.8zM55.1 56.9h.8v.8h-.8zM42.9 58.7h.8v.8h-.8zM53.3 57.5h.8v.8h-.8zM58.4 50.8h.8v.8h-.8zM53.1 59.8h.8v.8h-.8zM46.0 63.4h.8v.8h-.8zM43.2 43.9h.8v.8h-.8zM53.1 45.5h.8v.8h-.8zM49.9 41.2h.8v.8h-.8zM50.8 45.2h.8v.8h-.8zM52.2 42.0h.8v.8h-.8zM52.7 51.9h.8v.8h-.8zM50.8 53.5h.8v.8h-.8zM51.2 43.7h.8v.8h-.8zM45.8 50.5h.8v.8h-.8zM52.6 38.5h.8v.8h-.8zM46.7 49.2h.8v.8h-.8zM45.2 56.5h.8v.8h-.8zM49.8 47.6h.8v.8h-.8zM45.6 60.3h.8v.8h-.8zM47.2 58.6h.8v.8h-.8zM52.7 39.2h.8v.8h-.8zM45.1 54.0h.8v.8h-.8zM52.2 60.1h.8v.8h-.8zM54.5 62.1h.8v.8h-.8zM48.6 52.4h.8v.8h-.8zM54.4 50.7h.8v.8h-.8zM55.8 41.6h.8v.8h-.8zM53.8 52.6h.8v.8h-.8zM40.7 61.6h.8v.8h-.8zM52.1 54.2h.8v.8h-.8zM45.1 50.4h.8v.8h-.8zM58.1 47.5h.8v.8h-.8zM44.5 53.0h.8v.8h-.8zM48.5 46.9h.8v.8h-.8zM46.3 62.2h.8v.8h-.8zM43.3 69.3h.8v.8h-.8zM47.8 45.5h.8v.8h-.8zM54.4 58.4h.8v.8h-.8zM45.3 59.8h.8v.8h-.8zM41.3 46.8h.8v.8h-.8zM56.1 52.0h.8v.8h-.8zM44.0 58.0h.8v.8h-.8zM55.1 53.8h.8v.8h-.8zM41.5 51.3h.8v.8h-.8zM52.6 60.0h.8v.8h-.8zM59.8 52.0h.8v.8h-.8zM48.1 53.7h.8v.8h-.8zM56.5 46.7h.8v.8h-.8zM57.0 32.6h.8v.8h-.8zM54.5 48.7h.8v.8h-.8zM52.8 59.4h.8v.8h-.8zM44.6 53.3h.8v.8h-.8zM51.7 58.6h.8v.8h-.8zM45.8 46.3h.8v.8h-.8zM40.9 73.8h.8v.8h-.8zM49.5 52.3h.8v.8h-.8zM43.0 61.3h.8v.8h-.8zM47.8 65.2h.8v.8h-.8zM54.8 54.2h.8v.8h-.8zM54.1 45.3h.8v.8h-.8zM48.9 49.5h.8v.8h-.8zM44.2 54.1h.8v.8h-.8zM49.8 65.2h.8v.8h-.8zM45.9 50.4h.8v.8h-.8zM52.6 57.1h.8v.8h-.8zM50.6 50.3h.8v.8h-.8zM53.0 56.8h.8v.8h-.8zM41.3 52.0h.8v.8h-.8zM43.6 44.8h.8v.8h-.8zM51.2 54.5h.8v.8h-.8zM51.1 47.2h.8v.8h-.8zM49.5 46.9h.8v.8h-.8zM52.4 59.4h.8v.8h-.8zM59.3 63.9h.8v.8h-.8zM46.5 50.4h.8v.8h-.8zM45.8 56.4h.8v.8h-.8zM60.4 59.5h.8v.8h-.8zM44.0 58.0h.8v.8h-.8zM50.5 56.3h.8v.8h-.8zM59.4 47.5h.8v.8h-.8zM46.3 69.3h.8v.8h-.8zM52.2 47.9h.8v.8h-.8zM40.4 42.1h.8v.8h-.8zM50.7 61.7h.8v.8h-.8zM49.8 48.6h.8v.8h-.8zM46.8 68.8h.8v.8h-.8zM41.7 55.4h.8v.8h-.8zM50.6 58.8h.8v.8h-.8zM48.5 57.9h.8v.8h-.8zM54.6 52.9h.8v.8h-.8zM48.2 52.5h.8v.8h-.8zM45.7 52.4h.8v.8h-.8zM49.0 55.6h.8v.8h-.8zM57.2 64.2h.8v.8h-.8zM48.3 58.7h.8v.8h-.8zM52.0 59.9h.8v.8h-.8zM50.6 56.1h.8v.8h-.8zM48.2 47.9h.8v.8h-.8zM54.9 64.1h.8v.8h-.8zM53.8 57.4h.8v.8h-.8zM51.8 50.5h.8v.8h-.8zM41.6 59.2h.8v.8h-.8zM51.5 49.7h.8v.8h-.8zM45.7 64.0h.8v.8h-.8zM41.5 67.7h.8v.8h-.8zM53.7 72.5h.8v.8h-.8zM46.9 53.8h.8v.8h-.8zM48.0 55.2h.8v.8h-.8zM49.5 48.2h.8v.8h-.8zM55.9 47.9h.8v.8h-.8zM48.0 58.3h.8v.8h-.8zM47.8 50.6h.8v.8h-.8zM52.3 51.1h.8v.8h-.8zM44.3 53.2h.8v.8h-.8zM49.4 67.3h.8v.8h-.8zM45.0 61.6h.8v.8h-.8zM46.6 51.2h.8v.8h-.8zM48.9 56.1h.8v.8h-.8zM54.8 67.6h.8v.8h-.8zM47.3 64.4h.8v.8h-.8zM55.5 60.3h.8v.8h-.8zM46.7 61.0h.8v.8h-.8zM50.0 56.8h.8v.8h-.8zM49.2 59.2h.8v.8h-.8zM56.1 62.8h.8v.8h-.8zM49.5 61.8h.8v.8h-.8zM57.8 46.7h.8v.8h-.8zM57.9 43.6h.8v.8h-.8zM53.2 58.6h.8v.8h-.8zM57.9 56.2h.8v.8h-.8zM48.1 47.8h.8v.8h-.8zM44.2 60.0h.8v.8h-.8zM49.3 48.4h.8v.8h-.8zM53.2 48.0h.8v.8h-.8zM48.3 50.4h.8v.8h-.8z" fill="#000" fill-opacity="0.8"/>
<path d="M61.8 70.6h.8v.8h-.8zM50.0 40.3h.8v.8h-.8zM52.8 56.7h.8v.8h-.8zM53.3 61.7h.8v.8h-.8zM48.9 65.3h.8v.8h-.8zM56.4 58.1h.8v.8h-.8zM48.4 51.2h.8v.8h-.8zM55.5 45.0h.8v.8h-.8zM50.0 48.5h.8v.8h-.8zM41.9 62.0h.8v.8h-.8zM50.8 56.4h.8v.8h-.8zM56.7 41.1h.8v.8h-.8zM50.6 58.9h.8v.8h-.8zM56.4 45.2h.8v.8h-.8zM55.7 58.2h.8v.8h-.8zM59.8 67.4h.8v.8h-.8zM51.0 51.8h.8v.8h-.8zM48.8 46.6h.8v.8h-.8zM50.8 37.2h.8v.8h-.8zM50.5 60.3h.8v.8h-.8zM57.4 52.5h.8v.8h-.8zM60.0 49.5h.8v.8h-.8zM50.1 37.2h.8v.8h-.8zM46.1 48.1h.8v.8h-.8zM60.5 61.2h.8v.8h-.8zM44.0 61.2h.8v.8h-.8zM54.1 53.7h.8v.8h-.8zM51.1 53.0h.8v.8h-.8zM47.6 38.7h.8v.8h-.8zM50.4 68.5h.8v.8h-.8zM60.1 53.3h.8v.8h-.8zM46.3 53.9h.8v.8h-.8zM56.7 59.4h.8v.8h-.8zM47.3 59.5h.8v.8h-.8zM49.7 61.0h.8v.8h-.8zM48.4 41.6h.8v.8h-.8zM51.4 63.4h.8v.8h-.8zM44.0 55.0h.8v.8h-.8zM56.6 52.3h.8v.8h-.8zM46.9 75.8h.8v.8h-.8zM56.3 66.0h.8v.8h-.8zM45.0 71.9h.8v.8h-.8zM40.5 51.0h.8v.8h-.8zM55.7 69.0h.8v.8h-.8zM45.1 49.5h.8v.8h-.8zM52.2 37.2h.8v.8h-.8zM55.0 61.4h.8v.8h-.8zM48.2 61.2h.8v.8h-.8zM55.9 59.0h.8v.8h-.8zM54.3 70.7h.8v.8h-.8zM48.0 57.6h.8v.8h-.8zM47.7 66.0h.8v.8h-.8zM48.4 60.6h.8v.8h-.8zM51.9 56.6h.8v.8h-.8zM61.8 55.2h.8v.8h-.8zM59.9 64.0h.8v.8h-.8zM59.3 54.4h.8v.8h-.8zM56.8 63.3h.8v.8h-.8zM47.1 58.6h.8v.8h-.8zM50.2 55.7h.8v.8h-.8zM59.2 49.0h.8v.8h-.8zM40.4 39.2h.8v.8h-.8zM48.2 49.8h.8v.8h-.8zM51.1 61.5h.8v.8h-.8zM62.0 59.0h.8v.8h-.8zM53.9 48.9h.8v.8h-.8zM54.6 69.1h.8v.8h-.8zM59.4 37.2h.8v.8h-.8zM56.6 71.3h.8v.8h-.8zM56.2 41.6h.8v.8h-.8zM49.1 61.7h.8v.8h-.8zM53.6 48.2h.8v.8h-.8zM45.4 65.3h.8v.8h-.8zM42.6 69.8h.8v.8h-.8zM51.1 58.9h.8v.8h-.8zM42.7 50.3h.8v.8h-.8zM55.3 41.8h.8v.8h-.8zM64.0 42.5h.8v.8h-.8zM43.4 56.4h.8v.8h-.8zM54.0 63.1h.8v.8h-.8zM48.7 54.0h.8v.8h-.8zM49.5 50.5h.8v.8h-.8zM52.6 57.5h.8v.8h-.8zM47.1 58.4h.8v.8h-.8zM50.9 55.3h.8v.8h-.8zM57.9 39.5h.8v.8h-.8zM52.6 45.8h.8v.8h-.8zM49.0 70.4h.8v.8h-.8zM44.2 55.0h.8v.8h-.8zM47.3 65.1h.8v.8h-.8zM44.9 39.8h.8v.8h-.8zM54.2 52.6h.8v.8h-.8zM49.0 66.4h.8v.8h-.8zM45.5 52.4h.8v.8h-.8zM51.9 60.0h.8v.8h-.8zM47.8 65.9h.8v.8h-.8zM65.0 52.1h.8v.8h-.8zM62.7 35.7h.8v.8h-.8zM59.8 52.7h.8v.8h-.8zM51.9 52.7h.8v.8h-.8zM47.0 43.7h.8v.8h-.8zM48.5 68.4h.8v.8h-.8zM58.1 52.7h.8v.8h-.8zM47.7 49.3h.8v.8h-.8zM43.5 73.3h.8v.8h-.8zM55.1 57.1h.8v.8h-.8zM47.9 46.2h.8v.8h-.8zM59.2 63.5h.8v.8h-.8zM45.1 65.5h.8v.8h-.8zM44.1 62.2h.8v.8h-.8zM45.0 52.0h.8v.8h-.8zM54.1 60.2h.8v.8h-.8zM57.3 48.0h.8v.8h-.8zM60.9 68.9h.8v.8h-.8zM50.9 60.5h.8v.8h-.8zM46.1 54.5h.8v.8h-.8zM42.8 56.9h.8v.8h-.8zM52.2 68.9h.8v.8h-.8zM56.9 63.8h.8v.8h-.8zM48.7 53.8h.8v.8h-.8zM48.9 58.1h.8v.8h-.8zM41.2 51.1h.8v.8h-.8zM51.1 51.1h.8v.8h-.8zM61.4 55.1h.8v.8h-.8zM60.8 67.3h.8v.8h-.8zM47.9 59.8h.8v.8h-.8zM59.1 52.8h.8v.8h-.8zM51.6 50.6h.8v.8h-.8zM51.4 52.6h.8v.8h-.8zM51.5 65.6h.8v.8h-.8zM59.7 57.3h.8v.8h-.8zM52.3 64.2h.8v.8h-.8zM49.2 45.8h.8v.8h-.8zM57.9 47.0h.8v.8h-.8zM56.8 46.7h.8v.8h-.8zM62.4 46.0h.8v.8h-.8zM56.3 70.4h.8v.8h-.8zM45.0 70.3h.8v.8h-.8zM45.9 39.1h.8v.8h-.8zM55.5 62.7h.8v.8h-.8zM49.7 31.8h.8v.8h-.8zM50.7 53.1h.8v.8h-.8zM48.6 53.2h.8v.8h-.8zM39.8 50.6h.8v.8h-.8zM62.2 70.8h.8v.8h-.8zM48.7 49.2h.8v.8h-.8zM53.5 66.2h.8v.8h-.8zM55.5 44.8h.8v.8h-.8zM52.0 57.3h.8v.8h-.8zM60.0 67.5h.8v.8h-.8zM54.3 67.7h.8v.8h-.8zM48.5 70.8h.8v.8h-.8zM48.3 59.8h.8v.8h-.8zM56.7 47.2h.8v.8h-.8zM46.6 39.1h.8v.8h-.8zM52.0 55.5h.8v.8h-.8zM49.0 60.8h.8v.8h-.8zM51.5 53.4h.8v.8h-.8zM56.0 72.8h.8v.8h-.8zM48.2 47.0h.8v.8h-.8zM47.2 56.9h.8v.8h-.8zM54.7 47.7h.8v.8h-.8zM57.2 46.2h.8v.8h-.8zM56.2 60.1h.8v.8h-.8zM49.4 54.4h.8v.8h-.8zM54.0 64.3h.8v.8h-.8zM42.6 58.6h.8v.8h-.8zM46.4 62.1h.8v.8h-.8zM59.5 56.5h.8v.8h-.8zM50.3 57.8h.8v.8h-.8zM54.5 57.6h.8v.8h-.8zM48.5 49.0h.8v.8h-.8zM49.9 67.6h.8v.8h-.8zM50.4 68.9h.8v.8h-.8zM52.7 55.9h.8v.8h-.8zM40.6 49.6h.8v.8h-.8zM58.8 43.6h.8v.8h-.8zM44.8 45.5h.8v.8h-.8zM47.6 62.2h.8v.8h-.8zM54.7 36.5h.8v.8h-.8zM60.1 50.3h.8v.8h-.8zM47.3 72.0h.8v.8h-.8zM50.5 44.1h.8v.8h-.8zM47.0 49.0h.8v.8h-.8zM44.7 52.8h.8v.8h-.8zM56.5 59.4h.8v.8h-.8zM44.8 57.1h.8v.8h-.8zM51.2 63.3h.8v.8h-.8zM49.0 60.4h.8v.8h-.8zM64.1 56.9h.8v.8h-.8zM44.2 59.2h.8v.8h-.8zM46.0 52.4h.8v.8h-.8zM52.2 59.2h.8v.8h-.8zM49.2 64.1h.8v.8h-.8zM49.8 43.5h.8v.8h-.8zM56.5 52.5h.8v.8h-.8zM58.6 49.7h.8v.8h-.8zM54.6 59.0h.8v.8h-.8zM44.0 69.5h.8v.8h-.8zM57.8 60.8h.8v.8h-.8zM55.2 51.2h.8v.8h-.8zM50.9 58.2h.8v.8h-.8zM53.6 62.8h.8v.8h-.8zM49.7 49.3h.8v.8h-.8zM47.5 59.9h.8v.8h-.8zM40.6 44.0h.8v.8h-.8zM48.4 50.7h.8v.8h-.8zM49.3 30.4h.8v.8h-.8zM48.9 53.6h.8v.8h-.8zM55.8 37.0h.8v.8h-.8zM49.1 60.6h.8v.8h-.8zM54.1 67.5h.8v.8h-.8zM57.6 45.9h.8v.8h-.8zM55.0 52.8h.8v.8h-.8zM46.0 70.7h.8v.8h-.8zM47.1 47.8h.8v.8h-.8zM48.5 47.8h.8v.8h-.8zM57.3 59.7h.8v.8h-.8zM59.8 60.0h.8v.8h-.8zM47.2 66.1h.8v.8h-.8zM46.9 51.6h.8v.8h-.8zM50.0 56.4h.8v.8h-.8zM58.5 50.2h.8v.8h-.8zM53.2 55.7h.8v.8h-.8zM43.1 45.5h.8v.8h-.8zM49.6 59.9h.8v.8h-.8zM53.0 60.6h.8v.8h-.8zM51.3 51.7h.8v.8h-.8zM53.7 46.3h.8v.8h-.8zM42.6 52.8h.8v.8h-.8zM42.0 51.0h.8v.8h-.8zM46.3 50.7h.8v.8h-.8zM50.7 48.3h.8v.8h-.8zM48.4 39.5h.8v.8h-.8zM51.9 47.5h.8v.8h-.8zM53.5 28.7h.8v.8h-.8zM46.0 58.3h.8v.8h-.8zM51.6 57.0h.8v.8h-.8zM41.6 58.2h.8v.8h-.8zM51.9 46.6h.8v.8h-.8zM55.7 55.5h.8v.8h-.8zM51.1 51.7h.8v.8h-.8zM54.4 56.9h.8v.8h-.8zM58.1 60.4h.8v.8h-.8zM47.1 53.8h.8v.8h-.8zM56.8 52.5h.8v.8h-.8zM53.4 61.0h.8v.8h-.8zM49.9 33.5h.8v.8h-.8zM51.8 58.1h.8v.8h-.8zM51.9 48.7h.8v.8h-.8zM58.6 54.7h.8v.8h-.8zM47.1 49.1h.8v.8h-.8zM53.3 45.5h.8v.8h-.8zM44.7 75.3h.8v.8h-.8zM59.2 66.2h.8v.8h-.8zM59.6 61.8h.8v.8h-.8zM40.4 67.6h.8v.8h-.8zM58.8 60.7h.8v.8h-.8zM59.6 51.2h.8v.8h-.8zM51.8 63.5h.8v.8h-.8zM50.5 66.6h.8v.8h-.8zM51.5 62.7h.8v.8h-.8zM51.5 41.7h.8v.8h-.8zM52.8 68.7h.8v.8h-.8zM58.2 72.6h.8v.8h-.8zM54.5 50.2h.8v.8h-.8zM51.1 37.4h.8v.8h-.8zM49.8 64.8h.8v.8h-.8zM56.2 68.9h.8v.8h-.8zM45.2 49.7h.8v.8h-.8zM54.4 76.1h.8v.8h-.8zM43.8 69.4h.8v.8h-.8zM53.7 51.2h.8v.8h-.8zM64.8 31.5h.8v.8h-.8zM50.6 58.1h.8v.8h-.8zM64.4 73.5h.8v.8h-.8zM65.3 57.3h.8v.8h-.8zM57.2 69.3h.8v.8h-.8zM54.2 59.5h.8v.8h-.8zM49.8 52.0h.8v.8h-.8zM43.2 74.9h.8v.8h-.8zM48.2 35.8h.8v.8h-.8zM52.7 55.7h.8v.8h-.8zM52.1 73.6h.8v.8h-.8zM50.3 53.4h.8v.8h-.8zM46.3 55.8h.8v.8h-.8zM48.2 58.0h.8v.8h-.8zM70.7 59.8h.8v.8h-.8zM45.6 74.8h.8v.8h-.8zM56.5 63.9h.8v.8h-.8zM55.5 64.0h.8v.8h-.8zM55.3 69.7h.8v.8h-.8zM57.4 69.1h.8v.8h-.8zM47.8 56.0h.8v.8h-.8zM46.4 65.3h.8v.8h-.8zM56.3 51.5h.8v.8h-.8zM58.8 45.1h.8v.8h-.8zM50.4 62.2h.8v.8h-.8zM50.8 59.8h.8v.8h-.8zM58.5 59.2h.8v.8h-.8zM44.1 63.0h.8v.8h-.8zM50.4 57.1h.8v.8h-.8zM47.4 42.5h.8v.8h-.8zM43.1 52.6h.8v.8h-.8zM44.2 29.6h.8v.8h-.8zM58.3 44.7h.8v.8h-.8zM46.4 61.2h.8v.8h-.8zM46.1 62.4h.8v.8h-.8zM48.0 59.0h.8v.8h-.8zM51.7 56.0h.8v.8h-.8zM50.7 69.7h.8v.8h-.8zM47.5 61.2h.8v.8h-.8zM52.0 60.7h.8v.8h-.8zM57.3 41.4h.8v.8h-.8zM52.7 54.3h.8v.8h-.8zM49.0 47.7h.8v.8h-.8zM46.0 46.0h.8v.8h-.8zM61.8 56.1h.8v.8h-.8zM55.7 46.5h.8v.8h-.8zM51.9 70.0h.8v.8h-.8zM50.7 46.2h.8v.8h-.8zM49.5 46.3h.8v.8h-.8zM42.2 53.7h.8v.8h-.8zM48.5 48.1h.8v.8h-.8zM45.4 46.9h.8v.8h-.8zM52.5 69.6h.8v.8h-.8zM40.8 58.7h.8v.8h-.8zM43.7 54.4h.8v.8h-.8zM51.6 61.4h.8v.8h-.8zM58.2 50.6h.8v.8h-.8zM43.1 54.2h.8v.8h-.8zM52.9 49.2h.8v.8h-.8zM56.7 72.4h.8v.8h-.8zM42.0 59.5h.8v.8h-.8zM57.4 37.3h.8v.8h-.8zM52.3 53.8h.8v.8h-.8zM42.0 68.8h.8v.8h-.8zM52.4 51.3h.8v.8h-.8zM53.8 62.3h.8v.8h-.8zM55.9 61.7h.8v.8h-.8zM53.6 44.5h.8v.8h-.8zM48.3 57.3h.8v.8h-.8zM48.6 45.7h.8v.8h-.8zM51.2 50.3h.8v.8h-.8zM48.4 47.3h.8v.8h-.8zM46.3 55.0h.8v.8h-.8zM46.9 62.6h.8v.8h-.8zM50.1 57.3h.8v.8h-.8zM53.6 68.4h.8v.8h-.8zM54.8 58.2h.8v.8h-.8zM50.0 48.1h.8v.8h-.8zM48.8 62.7h.8v.8h-.8zM52.4 52.2h.8v.8h-.8zM42.6 41.1h.8v.8h-.8zM53.0 66.0h.8v.8h-.8zM53.4 42.6h.8v.8h-.8zM49.7 58.2h.8v.8h-.8zM45.2 59.4h.8v.8h-.8zM49.7 47.9h.8v.8h-.8zM43.1 63.9h.8v.8h-.8zM53.3 47.4h.8v.8h-.8zM44.6 64.7h.8v.8h-.8zM54.8 53.0h.8v.8h-.8zM61.1 53.2h.8v.8h-.8zM44.3 66.6h.8v.8h-.8zM49.8 59.4h.8v.8h-.8zM51.2 46.2h.8v.8h-.8zM43.5 54.1h.8v.8h-.8zM59.9 46.2h.8v.8h-.8zM59.6 58.1h.8v.8h-.8zM44.0 58.6h.8v.8h-.8zM54.6 47.2h.8v.8h-.8zM44.0 60.3h.8v.8h-.8zM45.9 41.6h.8v.8h-.8zM49.5 57.7h.8v.8h-.8zM47.5 44.5h.8v.8h-.8zM52.3 39.0h.8v.8h-.8zM54.4 60.8h.8v.8h-.8zM61.6 64.6h.8v.8h-.8zM53.2 58.6h.8v.8h-.8zM51.2 43.1h.8v.8h-.8zM60.2 61.1h.8v.8h-.8zM49.2 44.9h.8v.8h-.8zM60.4 61.2h.8v.8h-.8zM43.5 62.5h.8v.8h-.8zM63.0 55.8h.8v.8h-.8zM53.5 52.0h.8v.8h-.8zM47.0 66.4h.8v.8h-.8zM70.4 57.1h.8v.8h-.8zM50.2 63.7h.8v.8h-.8zM49.1 63.1h.8v.8h-.8zM56.2 46.1h.8v.8h-.8zM44.2 55.3h.8v.8h-.8zM56.3 58.7h.8v.8h-.8zM58.8 42.6h.8v.8h-.8zM54.1 50.0h.8v.8h-.8zM51.6 59.1h.8v.8h-.8zM44.9 53.8h.8v.8h-.8zM43.7 58.6h.8v.8h-.8zM45.6 51.2h.8v.8h-.8zM52.4 49.7h.8v.8h-.8zM58.2 49.8h.8v.8h-.8zM56.4 58.7h.8v.8h-.8zM44.5 53.9h.8v.8h-.8zM45.7 52.5h.8v.8h-.8zM49.3 73.6h.8v.8h-.8zM48.4 71.2h.8v.8h-.8zM53.8 43.3h.8v.8h-.8zM57.5 59.8h.8v.8h-.8zM49.7 53.6h.8v.8h-.8zM52.6 53.1h.8v.8h-.8zM47.6 52.4h.8v.8h-.8zM58.4 50.0h.8v.8h-.8zM53.4 44.8h.8v.8h-.8zM46.5 42.7h.8v.8h-.8zM49.8 62.6h.8v.8h-.8zM52.9 51.2h.8v.8h-.8zM54.8 52.6h.8v.8h-.8zM53.3 58.6h.8v.8h-.8zM54.4 32.0h.8v.8h-.8zM42.8 63.5h.8v.8h-.8zM49.5 50.7h.8v.8h-.8zM60.4 61.4h.8v.8h-.8zM62.9 60.9h.8v.8h-.8zM49.7 63.0h.8v.8h-.8zM46.0 51.7h.8v.8h-.8zM47.5 53.9h.8v.8h-.8zM55.9 51.3h.8v.8h-.8zM53.0 51.2h.8v.8h-.8zM56.6 29.3h.8v.8h-.8zM49.7 57.6h.8v.8h-.8zM44.2 65.8h.8v.8h-.8zM52.4 68.4h.8v.8h-.8zM57.0 62.2h.8v.8h-.8zM50.1 45.5h.8v.8h-.8zM49.6 51.6h.8v.8h-.8zM52.6 51.5h.8v.8h-.8zM70.2 40.6h.8v.8h-.8zM58.4 51.5h.8v.8h-.8zM49.5 64.9h.8v.8h-.8zM51.0 44.3h.8v.8h-.8zM53.6 54.1h.8v.8h-.8zM44.4 48.8h.8v.8h-.8zM54.0 58.9h.8v.8h-.8zM53.6 50.1h.8v.8h-.8zM52.5 54.8h.8v.8h-.8zM42.3 75.9h.8v.8h-.8zM49.8 53.3h.8v.8h-.8zM47.5 65.5h.8v.8h-.8zM51.2 72.5h.8v.8h-.8z" fill="#333" fill-opacity="0.6"/>
<path d="M62.3 48.7h.8v.8h-.8zM56.2 38.9h.8v.8h-.8zM54.1 34.7h.8v.8h-.8zM45.3 31.5h.8v.8h-.8zM50.6 31.0h.8v.8h-.8zM65.2 38.0h.8v.8h-.8zM65.3 42.6h.8v.8h-.8zM63.2 43.7h.8v.8h-.8zM52.9 42.2h.8v.8h-.8zM54.8 31.9h.8v.8h-.8zM65.1 52.7h.8v.8h-.8zM50.4 49.4h.8v.8h-.8zM62.6 29.5h.8v.8h-.8zM58.8 38.9h.8v.8h-.8zM59.5 33.3h.8v.8h-.8zM48.3 36.2h.8v.8h-.8zM62.8 42.1h.8v.8h-.8zM61.5 44.5h.8v.8h-.8zM50.3 35.7h.8v.8h-.8zM59.3 43.7h.8v.8h-.8zM58.1 40.0h.8v.8h-.8zM57.9 52.2h.8v.8h-.8zM42.3 35.8h.8v.8h-.8zM73.7 37.8h.8v.8h-.8zM44.6 37.0h.8v.8h-.8zM47.3 30.8h.8v.8h-.8zM58.5 49.2h.8v.8h-.8zM60.1 41.2h.8v.8h-.8zM63.9 37.5h.8v.8h-.8zM51.2 35.2h.8v.8h-.8zM59.3 33.9h.8v.8h-.8zM52.5 33.2h.8v.8h-.8zM46.9 28.1h.8v.8h-.8zM56.4 33.2h.8v.8h-.8zM57.3 46.8h.8v.8h-.8zM59.0 35.8h.8v.8h-.8zM49.1 27.7h.8v.8h-.8zM59.5 29.3h.8v.8h-.8zM59.9 27.7h.8v.8h-.8zM57.9 35.4h.8v.8h-.8zM63.7 33.0h.8v.8h-.8zM54.5 37.9h.8v.8h-.8zM57.4 49.0h.8v.8h-.8zM55.3 31.9h.8v.8h-.8zM54.8 39.6h.8v.8h-.8zM58.6 41.3h.8v.8h-.8zM47.7 55.1h.8v.8h-.8zM69.4 35.8h.8v.8h-.8zM48.9 37.2h.8v.8h-.8zM59.8 18.8h.8v.8h-.8zM57.1 24.6h.8v.8h-.8zM60.1 46.6h.8v.8h-.8zM64.0 24.4h.8v.8h-.8zM66.3 43.0h.8v.8h-.8zM54.6 39.9h.8v.8h-.8zM67.2 33.4h.8v.8h-.8zM56.9 31.7h.8v.8h-.8zM64.8 19.4h.8v.8h-.8zM66.6 28.6h.8v.8h-.8zM63.2 23.5h.8v.8h-.8zM50.7 31.4h.8v.8h-.8zM62.6 23.5h.8v.8h-.8zM61.1 31.1h.8v.8h-.8zM65.4 33.6h.8v.8h-.8zM60.3 34.7h.8v.8h-.8zM69.1 33.2h.8v.8h-.8zM56.8 51.3h.8v.8h-.8zM57.5 41.3h.8v.8h-.8zM52.0 37.5h.8v.8h-.8zM41.7 36.8h.8v.8h-.8zM52.6 24.4h.8v.8h-.8zM47.5 44.8h.8v.8h-.8zM59.9 24.3h.8v.8h-.8zM69.2 30.6h.8v.8h-.8zM54.5 37.9h.8v.8h-.8zM49.3 23.6h.8v.8h-.8zM52.0 45.1h.8v.8h-.8zM63.4 23.8h.8v.8h-.8zM65.1 36.3h.8v.8h-.8zM60.4 36.4h.8v.8h-.8zM59.8 28.3h.8v.8h-.8zM50.9 30.6h.8v.8h-.8zM54.5 40.8h.8v.8h-.8zM48.8 48.3h.8v.8h-.8zM52.7 31.5h.8v.8h-.8zM61.7 39.3h.8v.8h-.8zM54.7 27.8h.8v.8h-.8zM50.3 23.7h.8v.8h-.8zM64.7 44.3h.8v.8h-.8zM69.6 39.8h.8v.8h-.8zM59.2 41.8h.8v.8h-.8zM63.4 34.0h.8v.8h-.8zM59.4 52.6h.8v.8h-.8zM45.6 25.2h.8v.8h-.8zM50.5 41.8h.8v.8h-.8zM65.0 33.4h.8v.8h-.8zM61.5 35.6h.8v.8h-.8zM59.0 31.8h.8v.8h-.8zM56.8 36.0h.8v.8h-.8zM64.6 53.2h.8v.8h-.8zM44.8 40.1h.8v.8h-.8zM57.0 43.5h.8v.8h-.8zM64.2 42.0h.8v.8h-.8zM62.5 28.7h.8v.8h-.8zM45.5 48.9h.8v.8h-.8zM65.1 28.7h.8v.8h-.8zM65.7 41.1h.8v.8h-.8zM40.5 42.9h.8v.8h-.8zM50.3 45.0h.8v.8h-.8zM52.4 30.3h.8v.8h-.8zM46.6 34.3h.8v.8h-.8zM63.9 30.8h.8v.8h-.8zM44.5 52.5h.8v.8h-.8zM69.4 41.3h.8v.8h-.8zM53.4 26.7h.8v.8h-.8zM46.0 40.3h.8v.8h-.8zM65.8 27.8h.8v.8h-.8zM57.0 33.9h.8v.8h-.8zM55.3 39.9h.8v.8h-.8zM71.1 31.1h.8v.8h-.8zM62.7 44.4h.8v.8h-.8zM55.1 34.9h.8v.8h-.8zM48.0 44.3h.8v.8h-.8zM53.4 31.0h.8v.8h-.8zM57.5 29.4h.8v.8h-.8zM50.0 33.7h.8v.8h-.8zM67.0 34.4h.8v.8h-.8zM60.6 24.7h.8v.8h-.8zM43.9 50.0h.8v.8h-.8zM54.3 24.1h.8v.8h-.8zM56.3 40.7h.8v.8h-.8zM45.3 29.2h.8v.8h-.8zM58.8 28.9h.8v.8h-.8zM62.4 43.4h.8v.8h-.8zM60.0 32.7h.8v.8h-.8zM56.7 31.1h.8v.8h-.8zM56.1 38.5h.8v.8h-.8zM55.0 43.5h.8v.8h-.8zM74.5 31.8h.8v.8h-.8zM59.3 42.4h.8v.8h-.8zM61.4 34.2h.8v.8h-.8zM53.8 43.8h.8v.8h-.8zM61.2 39.9h.8v.8h-.8zM51.6 40.9h.8v.8h-.8zM62.4 34.6h.8v.8h-.8zM61.4 52.8h.8v.8h-.8zM44.3 40.7h.8v.8h-.8zM49.1 25.5h.8v.8h-.8zM55.4 40.2h.8v.8h-.8zM57.4 27.0h.8v.8h-.8z" fill="#777" fill-opacity="0.5"/>
<line x1="128.50" y1="8.00" x2="128.50" y2="76.80" stroke="#777" stroke-width="1"/>
<line x1="139.50" y1="8.00" x2="139.50" y2="76.80" stroke="#777" stroke-width="1"/>
<line x1="128.50" y1="48.50" x2="203.50" y2="48.50" stroke="#777" stroke-width="1"/>
<line x1="128.50" y1="76.80" x2="203.50" y2="76.80" stroke="#777" stroke-width="1"/>
<text x="140.0" y="6.2" font-size="5.6" font-weight="normal" text-anchor="start" fill="#222" >CD34+ CD38+</text>
<text x="130.5" y="39.6" font-size="5.4" font-weight="normal" text-anchor="start" fill="#333" >Q1</text>
<text x="130.5" y="62.2" font-size="5.4" font-weight="normal" text-anchor="start" fill="#333" >Q3</text>
<text x="148.5" y="62.2" font-size="5.4" font-weight="normal" text-anchor="start" fill="#333" >Q4</text>
<path d="M148.4 35.0h.8v.8h-.8zM151.8 31.8h.8v.8h-.8zM153.1 43.9h.8v.8h-.8zM150.9 35.6h.8v.8h-.8zM150.8 33.6h.8v.8h-.8zM153.0 33.8h.8v.8h-.8zM152.7 29.6h.8v.8h-.8zM153.5 44.7h.8v.8h-.8zM154.9 38.0h.8v.8h-.8zM157.9 35.4h.8v.8h-.8zM150.4 29.0h.8v.8h-.8zM151.2 41.1h.8v.8h-.8zM156.5 36.2h.8v.8h-.8zM144.5 29.3h.8v.8h-.8zM148.2 32.1h.8v.8h-.8zM151.8 30.9h.8v.8h-.8zM156.5 30.3h.8v.8h-.8zM153.8 39.1h.8v.8h-.8zM152.5 31.1h.8v.8h-.8zM159.8 41.1h.8v.8h-.8zM149.6 35.9h.8v.8h-.8zM146.5 29.2h.8v.8h-.8zM156.7 36.7h.8v.8h-.8zM157.1 35.2h.8v.8h-.8zM148.0 37.9h.8v.8h-.8zM149.2 31.5h.8v.8h-.8zM152.1 39.6h.8v.8h-.8zM156.8 43.0h.8v.8h-.8zM150.8 27.0h.8v.8h-.8zM158.6 38.5h.8v.8h-.8zM151.0 30.3h.8v.8h-.8zM155.6 27.3h.8v.8h-.8zM149.3 27.8h.8v.8h-.8zM146.5 30.3h.8v.8h-.8zM158.9 37.9h.8v.8h-.8zM149.5 30.4h.8v.8h-.8zM154.1 36.5h.8v.8h-.8zM146.9 32.8h.8v.8h-.8zM154.7 37.9h.8v.8h-.8zM154.6 36.6h.8v.8h-.8zM144.9 27.3h.8v.8h-.8zM152.4 31.0h.8v.8h-.8zM152.4 33.7h.8v.8h-.8zM153.2 31.3h.8v.8h-.8zM157.5 33.0h.8v.8h-.8zM156.3 36.6h.8v.8h-.8zM157.2 35.0h.8v.8h-.8zM147.4 35.2h.8v.8h-.8zM159.6 34.0h.8v.8h-.8zM156.0 36.0h.8v.8h-.8zM150.3 33.3h.8v.8h-.8zM154.2 40.4h.8v.8h-.8zM158.3 41.3h.8v.8h-.8zM158.9 41.6h.8v.8h-.8zM152.3 29.7h.8v.8h-.8zM159.0 33.7h.8v.8h-.8zM157.2 34.0h.8v.8h-.8zM153.0 36.1h.8v.8h-.8zM147.9 32.1h.8v.8h-.8zM149.9 34.3h.8v.8h-.8zM149.5 36.6h.8v.8h-.8zM158.6 42.4h.8v.8h-.8zM158.5 32.0h.8v.8h-.8zM155.5 32.8h.8v.8h-.8zM154.5 34.3h.8v.8h-.8zM152.2 36.1h.8v.8h-.8zM150.4 38.9h.8v.8h-.8zM150.4 31.2h.8v.8h-.8zM153.7 37.7h.8v.8h-.8zM152.6 37.9h.8v.8h-.8zM158.4 40.2h.8v.8h-.8zM150.3 36.2h.8v.8h-.8zM158.1 40.1h.8v.8h-.8zM155.8 37.5h.8v.8h-.8zM148.2 34.9h.8v.8h-.8zM157.5 31.4h.8v.8h-.8zM157.9 28.9h.8v.8h-.8zM149.3 29.2h.8v.8h-.8zM155.8 35.1h.8v.8h-.8zM159.4 32.6h.8v.8h-.8zM149.8 29.9h.8v.8h-.8zM155.3 38.8h.8v.8h-.8zM158.2 38.7h.8v.8h-.8zM155.8 33.5h.8v.8h-.8zM155.5 34.8h.8v.8h-.8zM153.5 43.7h.8v.8h-.8zM152.3 30.3h.8v.8h-.8zM155.2 35.5h.8v.8h-.8zM159.3 39.1h.8v.8h-.8zM146.2 41.8h.8v.8h-.8zM155.7 29.0h.8v.8h-.8zM148.9 38.9h.8v.8h-.8zM155.2 35.9h.8v.8h-.8zM149.4 34.9h.8v.8h-.8zM155.6 37.6h.8v.8h-.8zM160.2 32.8h.8v.8h-.8zM146.8 26.7h.8v.8h-.8zM156.2 32.9h.8v.8h-.8zM151.1 31.3h.8v.8h-.8zM151.7 26.9h.8v.8h-.8zM154.1 35.3h.8v.8h-.8zM157.1 39.7h.8v.8h-.8zM153.4 35.5h.8v.8h-.8zM152.6 27.6h.8v.8h-.8zM152.8 35.7h.8v.8h-.8zM154.4 30.4h.8v.8h-.8zM156.6 35.3h.8v.8h-.8zM146.2 31.5h.8v.8h-.8zM149.8 37.7h.8v.8h-.8zM155.6 37.5h.8v.8h-.8zM154.6 31.6h.8v.8h-.8zM158.2 36.6h.8v.8h-.8zM155.8 36.2h.8v.8h-.8zM150.7 38.4h.8v.8h-.8zM148.1 31.9h.8v.8h-.8zM152.8 36.1h.8v.8h-.8zM152.6 33.8h.8v.8h-.8zM151.1 37.3h.8v.8h-.8zM148.4 30.6h.8v.8h-.8zM156.9 40.6h.8v.8h-.8zM150.1 31.4h.8v.8h-.8zM161.0 39.6h.8v.8h-.8zM152.2 34.6h.8v.8h-.8zM160.4 46.3h.8v.8h-.8zM156.0 38.7h.8v.8h-.8zM150.8 27.2h.8v.8h-.8zM147.8 31.8h.8v.8h-.8zM154.9 34.8h.8v.8h-.8zM157.9 31.2h.8v.8h-.8zM154.5 34.8h.8v.8h-.8zM158.9 43.9h.8v.8h-.8zM157.5 40.4h.8v.8h-.8zM155.8 30.6h.8v.8h-.8zM154.6 32.5h.8v.8h-.8zM154.1 35.5h.8v.8h-.8zM152.5 33.1h.8v.8h-.8zM157.3 31.6h.8v.8h-.8zM159.1 40.5h.8v.8h-.8zM157.5 38.1h.8v.8h-.8zM159.7 37.2h.8v.8h-.8zM155.2 26.7h.8v.8h-.8zM159.0 32.1h.8v.8h-.8zM147.2 35.2h.8v.8h-.8zM149.5 37.0h.8v.8h-.8zM147.2 33.3h.8v.8h-.8zM154.7 35.2h.8v.8h-.8zM150.8 35.3h.8v.8h-.8zM153.4 35.4h.8v.8h-.8zM153.0 34.1h.8v.8h-.8zM152.5 27.3h.8v.8h-.8zM152.4 36.3h.8v.8h-.8zM151.2 33.4h.8v.8h-.8zM152.7 36.5h.8v.8h-.8zM156.6 32.4h.8v.8h-.8zM153.5 36.8h.8v.8h-.8zM148.7 27.7h.8v.8h-.8zM153.4 33.1h.8v.8h-.8zM153.2 38.4h.8v.8h-.8zM152.4 32.7h.8v.8h-.8zM143.7 31.5h.8v.8h-.8zM153.3 34.5h.8v.8h-.8zM155.2 35.2h.8v.8h-.8zM149.4 30.7h.8v.8h-.8zM150.1 36.1h.8v.8h-.8zM151.9 39.7h.8v.8h-.8zM145.9 30.0h.8v.8h-.8zM149.1 28.3h.8v.8h-.8zM155.9 28.6h.8v.8h-.8zM152.8 34.1h.8v.8h-.8zM147.4 29.3h.8v.8h-.8zM150.1 41.3h.8v.8h-.8zM161.0 42.0h.8v.8h-.8zM150.6 39.5h.8v.8h-.8zM155.3 38.4h.8v.8h-.8zM153.6 38.6h.8v.8h-.8zM157.3 36.0h.8v.8h-.8zM157.2 32.1h.8v.8h-.8zM156.3 29.9h.8v.8h-.8zM152.3 21.6h.8v.8h-.8zM151.8 31.8h.8v.8h-.8zM155.7 39.1h.8v.8h-.8zM155.7 34.3h.8v.8h-.8zM155.1 26.6h.8v.8h-.8zM154.5 42.2h.8v.8h-.8zM149.9 26.3h.8v.8h-.8zM151.9 29.8h.8v.8h-.8zM160.1 37.3h.8v.8h-.8zM154.8 40.9h.8v.8h-.8zM153.1 39.9h.8v.8h-.8zM154.9 33.6h.8v.8h-.8zM148.9 36.1h.8v.8h-.8zM145.9 36.3h.8v.8h-.8zM150.9 42.6h.8v.8h-.8zM145.5 26.9h.8v.8h-.8zM155.9 35.6h.8v.8h-.8zM156.6 44.1h.8v.8h-.8zM155.8 34.1h.8v.8h-.8zM145.3 24.3h.8v.8h-.8zM156.9 38.1h.8v.8h-.8zM148.8 30.3h.8v.8h-.8zM149.8 28.5h.8v.8h-.8zM155.2 38.0h.8v.8h-.8zM158.3 33.7h.8v.8h-.8zM155.7 37.7h.8v.8h-.8zM156.7 31.6h.8v.8h-.8zM148.3 33.8h.8v.8h-.8zM148.0 33.4h.8v.8h-.8zM153.9 36.5h.8v.8h-.8zM154.1 35.0h.8v.8h-.8zM153.4 37.2h.8v.8h-.8zM157.6 36.6h.8v.8h-.8zM157.1 31.6h.8v.8h-.8zM156.4 42.1h.8v.8h-.8zM155.0 36.3h.8v.8h-.8zM154.6 39.3h.8v.8h-.8zM150.2 31.6h.8v.8h-.8zM152.4 33.3h.8v.8h-.8zM155.0 32.2h.8v.8h-.8zM153.4 34.0h.8v.8h-.8zM153.1 32.0h.8v.8h-.8z" fill="#000" fill-opacity="0.75"/>
<path d="M152.7 17.9h.8v.8h-.8zM146.7 26.7h.8v.8h-.8zM154.7 29.8h.8v.8h-.8zM152.7 27.4h.8v.8h-.8zM143.5 24.4h.8v.8h-.8zM147.5 27.8h.8v.8h-.8zM153.7 33.0h.8v.8h-.8zM156.1 27.9h.8v.8h-.8zM143.6 24.9h.8v.8h-.8zM152.5 33.5h.8v.8h-.8zM162.3 27.8h.8v.8h-.8zM166.5 40.7h.8v.8h-.8zM149.0 42.4h.8v.8h-.8zM161.5 38.3h.8v.8h-.8zM153.9 38.1h.8v.8h-.8zM148.1 31.6h.8v.8h-.8zM156.7 44.1h.8v.8h-.8zM152.8 38.5h.8v.8h-.8zM149.2 25.6h.8v.8h-.8zM154.4 35.3h.8v.8h-.8zM149.0 37.3h.8v.8h-.8zM144.3 26.2h.8v.8h-.8zM151.5 28.8h.8v.8h-.8zM140.5 21.3h.8v.8h-.8zM151.9 32.7h.8v.8h-.8zM149.0 33.5h.8v.8h-.8zM143.8 37.5h.8v.8h-.8zM154.2 32.1h.8v.8h-.8zM147.9 33.0h.8v.8h-.8zM155.1 38.6h.8v.8h-.8zM153.3 32.2h.8v.8h-.8zM149.7 39.0h.8v.8h-.8zM155.9 24.6h.8v.8h-.8zM155.5 31.8h.8v.8h-.8zM146.7 21.6h.8v.8h-.8zM151.5 27.5h.8v.8h-.8zM156.0 25.2h.8v.8h-.8zM153.1 35.4h.8v.8h-.8zM151.9 26.1h.8v.8h-.8zM156.0 32.3h.8v.8h-.8zM154.9 24.9h.8v.8h-.8zM149.5 28.2h.8v.8h-.8zM147.2 34.8h.8v.8h-.8zM157.7 40.5h.8v.8h-.8zM150.4 34.6h.8v.8h-.8zM156.9 27.5h.8v.8h-.8zM151.8 31.8h.8v.8h-.8zM144.1 25.3h.8v.8h-.8zM157.7 29.7h.8v.8h-.8zM146.7 22.0h.8v.8h-.8zM155.3 39.3h.8v.8h-.8zM141.9 27.1h.8v.8h-.8zM161.6 38.9h.8v.8h-.8zM157.8 23.3h.8v.8h-.8zM152.0 24.1h.8v.8h-.8zM152.7 27.1h.8v.8h-.8zM156.2 40.4h.8v.8h-.8zM152.1 28.4h.8v.8h-.8zM152.1 32.8h.8v.8h-.8zM148.8 33.7h.8v.8h-.8zM159.1 41.0h.8v.8h-.8zM146.9 40.3h.8v.8h-.8zM165.0 26.7h.8v.8h-.8zM155.2 39.1h.8v.8h-.8zM146.7 28.6h.8v.8h-.8zM151.1 25.9h.8v.8h-.8zM157.1 28.4h.8v.8h-.8zM160.9 48.7h.8v.8h-.8zM151.4 38.8h.8v.8h-.8zM150.3 42.0h.8v.8h-.8zM156.7 29.8h.8v.8h-.8zM161.4 40.5h.8v.8h-.8zM158.6 27.8h.8v.8h-.8zM154.1 39.2h.8v.8h-.8zM141.1 30.0h.8v.8h-.8zM155.4 34.0h.8v.8h-.8zM166.6 39.5h.8v.8h-.8zM154.1 33.5h.8v.8h-.8zM143.2 32.7h.8v.8h-.8zM151.7 28.7h.8v.8h-.8zM153.2 35.3h.8v.8h-.8zM144.0 29.1h.8v.8h-.8zM144.8 43.5h.8v.8h-.8zM140.0 21.0h.8v.8h-.8zM154.6 27.7h.8v.8h-.8zM155.1 26.1h.8v.8h-.8zM164.8 31.3h.8v.8h-.8zM152.2 31.5h.8v.8h-.8zM152.4 37.4h.8v.8h-.8zM160.6 23.3h.8v.8h-.8zM146.9 37.9h.8v.8h-.8zM152.2 17.7h.8v.8h-.8zM144.2 25.3h.8v.8h-.8zM155.6 33.4h.8v.8h-.8zM143.5 24.5h.8v.8h-.8zM148.4 14.5h.8v.8h-.8zM154.0 28.4h.8v.8h-.8zM164.5 33.8h.8v.8h-.8zM147.0 30.3h.8v.8h-.8zM147.3 26.3h.8v.8h-.8zM154.4 37.8h.8v.8h-.8zM142.1 32.8h.8v.8h-.8zM161.4 33.0h.8v.8h-.8zM144.1 27.0h.8v.8h-.8zM141.4 21.3h.8v.8h-.8zM157.5 28.9h.8v.8h-.8zM142.8 22.2h.8v.8h-.8zM147.3 28.2h.8v.8h-.8zM159.0 23.7h.8v.8h-.8zM154.9 38.5h.8v.8h-.8zM154.1 28.2h.8v.8h-.8zM143.4 46.2h.8v.8h-.8zM152.9 26.5h.8v.8h-.8zM147.6 24.3h.8v.8h-.8zM141.6 22.3h.8v.8h-.8zM155.3 33.6h.8v.8h-.8zM154.3 36.3h.8v.8h-.8zM154.3 30.7h.8v.8h-.8zM148.0 37.3h.8v.8h-.8zM159.4 32.8h.8v.8h-.8zM156.3 24.7h.8v.8h-.8zM149.5 42.3h.8v.8h-.8zM148.6 34.1h.8v.8h-.8zM150.0 31.6h.8v.8h-.8zM147.9 27.7h.8v.8h-.8zM147.2 48.9h.8v.8h-.8zM146.2 16.6h.8v.8h-.8zM142.6 24.9h.8v.8h-.8zM159.1 41.5h.8v.8h-.8zM151.9 36.9h.8v.8h-.8z" fill="#555" fill-opacity="0.55"/>
<path d="M151.9 17.7h.8v.8h-.8zM155.0 16.2h.8v.8h-.8zM146.2 20.8h.8v.8h-.8zM155.2 22.4h.8v.8h-.8zM148.4 19.2h.8v.8h-.8zM149.4 22.1h.8v.8h-.8zM152.6 26.8h.8v.8h-.8zM152.6 22.1h.8v.8h-.8zM148.3 27.5h.8v.8h-.8zM150.0 21.9h.8v.8h-.8zM157.8 27.4h.8v.8h-.8zM151.8 21.6h.8v.8h-.8zM145.9 25.7h.8v.8h-.8zM146.8 25.3h.8v.8h-.8zM145.2 22.4h.8v.8h-.8zM151.0 22.5h.8v.8h-.8zM150.1 23.3h.8v.8h-.8zM143.5 18.2h.8v.8h-.8zM148.3 28.2h.8v.8h-.8zM148.4 18.8h.8v.8h-.8zM145.8 22.1h.8v.8h-.8zM154.8 20.1h.8v.8h-.8zM151.7 22.6h.8v.8h-.8zM147.3 18.8h.8v.8h-.8zM148.3 19.5h.8v.8h-.8zM151.6 16.0h.8v.8h-.8zM154.5 24.6h.8v.8h-.8zM151.8 27.1h.8v.8h-.8zM151.9 16.2h.8v.8h-.8zM149.3 23.5h.8v.8h-.8zM145.7 18.1h.8v.8h-.8zM151.1 23.7h.8v.8h-.8zM146.9 21.2h.8v.8h-.8zM146.5 20.1h.8v.8h-.8zM148.7 25.7h.8v.8h-.8z" fill="#444" fill-opacity="0.55"/>
<line x1="39.50" y1="90.70" x2="39.50" y2="160.20" stroke="#777" stroke-width="1"/>
<line x1="50.50" y1="90.70" x2="50.50" y2="160.20" stroke="#777" stroke-width="1"/>
<line x1="39.50" y1="131.20" x2="115.50" y2="131.20" stroke="#777" stroke-width="1"/>
<line x1="39.50" y1="160.20" x2="115.50" y2="160.20" stroke="#777" stroke-width="1"/>
<text x="61.0" y="88.9" font-size="5.6" font-weight="normal" text-anchor="start" fill="#222" >CD34+</text>
<text x="41.0" y="121.6" font-size="5.4" font-weight="normal" text-anchor="start" fill="#333" >Q1</text>
<text x="41.0" y="145.0" font-size="5.4" font-weight="normal" text-anchor="start" fill="#333" >Q3</text>
<text x="59.5" y="145.0" font-size="5.4" font-weight="normal" text-anchor="start" fill="#333" >Q4</text>
<path d="M57.8 120.0h.8v.8h-.8zM69.2 119.9h.8v.8h-.8zM65.2 123.7h.8v.8h-.8zM58.5 115.4h.8v.8h-.8zM56.0 114.9h.8v.8h-.8zM65.5 123.7h.8v.8h-.8zM61.2 117.3h.8v.8h-.8zM65.7 122.5h.8v.8h-.8zM61.6 110.9h.8v.8h-.8zM58.1 108.8h.8v.8h-.8zM63.1 115.8h.8v.8h-.8zM63.5 127.7h.8v.8h-.8zM68.5 120.9h.8v.8h-.8zM64.6 120.5h.8v.8h-.8zM61.5 120.4h.8v.8h-.8zM68.5 114.0h.8v.8h-.8zM61.6 121.4h.8v.8h-.8zM67.6 123.0h.8v.8h-.8zM60.2 120.4h.8v.8h-.8zM60.9 114.5h.8v.8h-.8zM63.1 117.7h.8v.8h-.8zM67.1 121.1h.8v.8h-.8zM61.1 121.2h.8v.8h-.8zM61.4 117.4h.8v.8h-.8zM63.4 125.4h.8v.8h-.8zM59.7 112.5h.8v.8h-.8zM62.1 124.5h.8v.8h-.8zM69.0 112.9h.8v.8h-.8zM61.9 118.8h.8v.8h-.8zM59.5 123.3h.8v.8h-.8zM63.7 121.3h.8v.8h-.8zM70.4 116.5h.8v.8h-.8zM67.3 123.1h.8v.8h-.8zM60.6 117.9h.8v.8h-.8zM69.6 121.8h.8v.8h-.8zM62.4 114.8h.8v.8h-.8zM67.1 121.6h.8v.8h-.8zM72.8 124.6h.8v.8h-.8zM66.5 120.4h.8v.8h-.8zM62.9 117.4h.8v.8h-.8zM64.9 120.8h.8v.8h-.8zM67.2 124.4h.8v.8h-.8zM63.7 117.2h.8v.8h-.8zM68.4 126.4h.8v.8h-.8zM61.4 122.8h.8v.8h-.8zM66.1 121.9h.8v.8h-.8zM65.0 119.1h.8v.8h-.8zM65.6 127.9h.8v.8h-.8zM67.1 111.8h.8v.8h-.8zM55.9 124.6h.8v.8h-.8zM60.6 118.3h.8v.8h-.8zM58.8 123.2h.8v.8h-.8zM62.5 117.6h.8v.8h-.8zM69.9 130.4h.8v.8h-.8zM70.0 124.0h.8v.8h-.8zM63.1 123.5h.8v.8h-.8zM65.0 125.4h.8v.8h-.8zM65.3 119.3h.8v.8h-.8zM64.3 116.1h.8v.8h-.8zM68.2 126.2h.8v.8h-.8zM63.1 122.9h.8v.8h-.8zM59.4 126.0h.8v.8h-.8zM64.9 114.4h.8v.8h-.8zM69.3 118.8h.8v.8h-.8zM55.9 115.4h.8v.8h-.8zM66.0 117.9h.8v.8h-.8zM64.9 111.7h.8v.8h-.8zM64.6 124.6h.8v.8h-.8zM62.3 123.8h.8v.8h-.8zM62.8 122.0h.8v.8h-.8zM67.8 130.0h.8v.8h-.8zM60.6 124.9h.8v.8h-.8zM66.1 113.5h.8v.8h-.8zM67.1 130.6h.8v.8h-.8zM62.7 105.2h.8v.8h-.8zM60.3 112.3h.8v.8h-.8zM63.4 116.3h.8v.8h-.8zM60.5 116.7h.8v.8h-.8zM63.8 117.5h.8v.8h-.8zM60.2 119.9h.8v.8h-.8zM63.6 115.6h.8v.8h-.8zM64.7 111.2h.8v.8h-.8zM64.3 117.8h.8v.8h-.8zM67.7 115.4h.8v.8h-.8zM59.4 114.4h.8v.8h-.8zM70.8 120.9h.8v.8h-.8zM59.5 119.5h.8v.8h-.8zM62.6 128.0h.8v.8h-.8zM61.9 110.1h.8v.8h-.8zM65.5 124.0h.8v.8h-.8zM64.2 122.2h.8v.8h-.8zM63.4 121.1h.8v.8h-.8zM63.2 116.5h.8v.8h-.8zM64.9 120.4h.8v.8h-.8zM62.4 116.9h.8v.8h-.8zM60.6 122.2h.8v.8h-.8zM62.7 108.0h.8v.8h-.8zM63.7 126.8h.8v.8h-.8zM65.5 115.8h.8v.8h-.8zM66.5 114.1h.8v.8h-.8zM63.7 129.8h.8v.8h-.8zM61.8 119.4h.8v.8h-.8zM56.7 117.0h.8v.8h-.8zM59.5 120.5h.8v.8h-.8zM59.1 126.8h.8v.8h-.8zM61.5 117.5h.8v.8h-.8zM62.5 124.1h.8v.8h-.8zM67.9 116.6h.8v.8h-.8zM71.1 125.9h.8v.8h-.8zM68.3 120.0h.8v.8h-.8zM59.6 124.6h.8v.8h-.8zM62.5 121.3h.8v.8h-.8zM57.0 120.6h.8v.8h-.8zM62.9 115.4h.8v.8h-.8zM66.9 127.5h.8v.8h-.8zM63.3 116.6h.8v.8h-.8zM68.2 107.6h.8v.8h-.8zM61.1 122.8h.8v.8h-.8zM58.3 109.9h.8v.8h-.8zM65.5 123.6h.8v.8h-.8zM63.0 127.6h.8v.8h-.8zM66.8 125.0h.8v.8h-.8zM58.5 121.5h.8v.8h-.8zM71.6 127.8h.8v.8h-.8zM67.8 118.7h.8v.8h-.8zM63.2 116.9h.8v.8h-.8zM66.1 115.7h.8v.8h-.8zM60.9 110.3h.8v.8h-.8zM61.2 129.8h.8v.8h-.8zM64.0 120.9h.8v.8h-.8zM56.3 122.1h.8v.8h-.8zM68.1 110.9h.8v.8h-.8zM55.5 121.6h.8v.8h-.8zM61.5 119.6h.8v.8h-.8zM57.4 114.9h.8v.8h-.8zM60.4 124.2h.8v.8h-.8zM64.5 123.9h.8v.8h-.8zM60.8 123.8h.8v.8h-.8zM62.2 120.9h.8v.8h-.8zM66.6 119.2h.8v.8h-.8zM60.0 112.6h.8v.8h-.8zM64.8 123.6h.8v.8h-.8zM61.3 120.3h.8v.8h-.8zM55.8 115.6h.8v.8h-.8zM66.7 125.6h.8v.8h-.8zM60.1 112.5h.8v.8h-.8zM60.0 113.1h.8v.8h-.8zM65.4 129.3h.8v.8h-.8zM64.3 119.0h.8v.8h-.8zM66.3 117.2h.8v.8h-.8zM64.9 120.6h.8v.8h-.8zM62.8 112.7h.8v.8h-.8zM67.1 123.4h.8v.8h-.8zM52.1 109.6h.8v.8h-.8zM62.7 127.9h.8v.8h-.8zM64.6 123.2h.8v.8h-.8zM66.6 123.6h.8v.8h-.8zM60.6 117.9h.8v.8h-.8zM65.6 122.5h.8v.8h-.8zM65.9 121.0h.8v.8h-.8zM63.5 125.7h.8v.8h-.8zM66.6 124.5h.8v.8h-.8zM56.6 127.3h.8v.8h-.8zM55.8 123.5h.8v.8h-.8zM61.5 121.2h.8v.8h-.8zM61.5 119.0h.8v.8h-.8zM64.6 121.4h.8v.8h-.8zM57.2 108.9h.8v.8h-.8zM61.7 123.3h.8v.8h-.8zM61.3 122.9h.8v.8h-.8zM60.9 115.9h.8v.8h-.8zM69.8 126.6h.8v.8h-.8zM63.1 119.9h.8v.8h-.8zM64.7 112.8h.8v.8h-.8zM62.3 126.2h.8v.8h-.8zM65.8 116.8h.8v.8h-.8zM61.4 122.4h.8v.8h-.8zM58.1 119.1h.8v.8h-.8zM59.1 108.6h.8v.8h-.8zM66.6 123.0h.8v.8h-.8zM64.9 112.1h.8v.8h-.8zM58.1 117.5h.8v.8h-.8zM62.2 131.0h.8v.8h-.8zM59.8 119.5h.8v.8h-.8zM64.8 121.9h.8v.8h-.8zM66.7 113.4h.8v.8h-.8zM66.6 119.8h.8v.8h-.8zM59.8 121.9h.8v.8h-.8zM61.2 129.1h.8v.8h-.8zM62.6 125.5h.8v.8h-.8zM66.9 115.7h.8v.8h-.8zM60.7 121.5h.8v.8h-.8zM61.3 125.3h.8v.8h-.8zM63.0 116.2h.8v.8h-.8zM62.3 124.1h.8v.8h-.8zM61.2 129.5h.8v.8h-.8zM60.6 119.9h.8v.8h-.8zM62.8 128.7h.8v.8h-.8zM68.1 125.3h.8v.8h-.8zM65.8 119.8h.8v.8h-.8zM70.1 121.4h.8v.8h-.8zM65.8 122.3h.8v.8h-.8zM66.4 120.6h.8v.8h-.8zM60.6 112.6h.8v.8h-.8zM68.4 111.7h.8v.8h-.8zM55.3 118.8h.8v.8h-.8zM71.7 123.8h.8v.8h-.8zM61.9 121.9h.8v.8h-.8zM60.5 110.6h.8v.8h-.8zM62.8 121.7h.8v.8h-.8zM65.6 113.1h.8v.8h-.8zM53.7 114.8h.8v.8h-.8zM64.7 120.0h.8v.8h-.8zM64.2 120.6h.8v.8h-.8zM60.3 113.9h.8v.8h-.8zM65.6 121.4h.8v.8h-.8zM67.3 125.3h.8v.8h-.8zM55.9 110.1h.8v.8h-.8zM60.7 132.0h.8v.8h-.8zM61.0 122.8h.8v.8h-.8z" fill="#000" fill-opacity="0.75"/>
<path d="M57.0 105.6h.8v.8h-.8zM66.6 102.9h.8v.8h-.8zM56.5 102.7h.8v.8h-.8zM57.7 105.1h.8v.8h-.8zM54.1 106.9h.8v.8h-.8zM60.4 105.0h.8v.8h-.8zM56.7 103.5h.8v.8h-.8zM52.1 105.4h.8v.8h-.8zM54.1 102.9h.8v.8h-.8zM60.0 102.0h.8v.8h-.8zM55.4 105.9h.8v.8h-.8zM62.6 102.5h.8v.8h-.8zM60.3 102.6h.8v.8h-.8zM58.2 105.1h.8v.8h-.8zM53.6 106.3h.8v.8h-.8zM62.4 104.1h.8v.8h-.8zM57.8 101.4h.8v.8h-.8zM62.4 104.1h.8v.8h-.8zM53.2 105.7h.8v.8h-.8zM52.6 102.5h.8v.8h-.8zM50.6 107.0h.8v.8h-.8zM63.6 102.6h.8v.8h-.8zM55.0 102.7h.8v.8h-.8zM55.3 105.2h.8v.8h-.8zM61.4 101.8h.8v.8h-.8zM58.3 100.0h.8v.8h-.8zM61.6 103.8h.8v.8h-.8zM54.9 107.4h.8v.8h-.8zM56.7 107.0h.8v.8h-.8zM60.2 107.6h.8v.8h-.8zM54.6 104.1h.8v.8h-.8zM58.1 103.6h.8v.8h-.8zM61.6 102.4h.8v.8h-.8zM60.0 107.0h.8v.8h-.8zM51.1 101.9h.8v.8h-.8zM54.3 102.8h.8v.8h-.8zM58.2 103.6h.8v.8h-.8zM57.2 103.0h.8v.8h-.8zM56.8 105.1h.8v.8h-.8zM59.2 102.3h.8v.8h-.8zM56.7 102.3h.8v.8h-.8zM56.5 100.8h.8v.8h-.8zM59.9 105.5h.8v.8h-.8zM56.6 102.5h.8v.8h-.8zM55.6 102.5h.8v.8h-.8zM52.4 107.6h.8v.8h-.8zM66.9 101.3h.8v.8h-.8zM53.5 105.3h.8v.8h-.8zM58.8 100.5h.8v.8h-.8zM51.2 105.2h.8v.8h-.8zM51.0 107.1h.8v.8h-.8zM55.5 104.2h.8v.8h-.8zM57.0 102.8h.8v.8h-.8zM56.6 103.3h.8v.8h-.8zM60.7 103.8h.8v.8h-.8zM56.9 102.8h.8v.8h-.8zM55.1 102.4h.8v.8h-.8zM57.0 108.0h.8v.8h-.8zM60.3 104.5h.8v.8h-.8zM62.0 106.2h.8v.8h-.8zM57.6 103.6h.8v.8h-.8zM53.7 104.5h.8v.8h-.8zM56.1 100.5h.8v.8h-.8zM53.1 108.3h.8v.8h-.8zM57.6 105.1h.8v.8h-.8zM57.6 103.0h.8v.8h-.8zM58.4 106.4h.8v.8h-.8zM56.1 105.1h.8v.8h-.8zM60.1 102.9h.8v.8h-.8zM57.5 102.4h.8v.8h-.8z" fill="#111" fill-opacity="0.7"/>
<path d="M67.2 109.9h.8v.8h-.8zM69.9 105.8h.8v.8h-.8zM74.6 108.1h.8v.8h-.8zM56.2 108.8h.8v.8h-.8zM66.4 106.1h.8v.8h-.8zM79.1 120.1h.8v.8h-.8zM64.1 102.1h.8v.8h-.8zM62.1 108.5h.8v.8h-.8zM52.9 121.0h.8v.8h-.8zM77.5 105.4h.8v.8h-.8zM72.4 122.1h.8v.8h-.8zM56.8 113.4h.8v.8h-.8zM66.9 117.1h.8v.8h-.8zM56.9 118.0h.8v.8h-.8zM65.5 121.5h.8v.8h-.8zM52.0 113.0h.8v.8h-.8zM59.9 112.6h.8v.8h-.8zM67.3 107.7h.8v.8h-.8zM80.6 102.9h.8v.8h-.8zM72.0 120.1h.8v.8h-.8zM70.0 110.4h.8v.8h-.8zM57.8 113.8h.8v.8h-.8zM68.7 113.5h.8v.8h-.8zM69.2 117.2h.8v.8h-.8zM55.9 108.7h.8v.8h-.8zM72.5 107.3h.8v.8h-.8zM57.8 131.5h.8v.8h-.8zM56.2 108.6h.8v.8h-.8zM67.8 103.3h.8v.8h-.8zM60.7 123.8h.8v.8h-.8zM65.0 114.2h.8v.8h-.8zM59.2 113.6h.8v.8h-.8zM60.6 114.9h.8v.8h-.8zM66.2 102.7h.8v.8h-.8zM52.9 99.9h.8v.8h-.8zM73.9 110.3h.8v.8h-.8zM63.8 113.6h.8v.8h-.8zM71.5 114.4h.8v.8h-.8zM69.3 111.0h.8v.8h-.8zM63.1 113.8h.8v.8h-.8zM54.1 126.2h.8v.8h-.8zM51.1 109.7h.8v.8h-.8zM68.6 113.0h.8v.8h-.8zM73.5 125.4h.8v.8h-.8zM79.7 120.7h.8v.8h-.8zM67.3 130.1h.8v.8h-.8zM57.9 115.2h.8v.8h-.8zM70.2 110.3h.8v.8h-.8zM62.4 111.6h.8v.8h-.8zM75.0 119.5h.8v.8h-.8zM64.8 118.4h.8v.8h-.8zM60.1 124.5h.8v.8h-.8zM82.3 100.6h.8v.8h-.8zM73.2 110.7h.8v.8h-.8zM60.6 111.0h.8v.8h-.8zM59.8 104.8h.8v.8h-.8zM58.9 129.5h.8v.8h-.8zM65.2 118.3h.8v.8h-.8zM67.2 117.0h.8v.8h-.8zM51.6 109.9h.8v.8h-.8zM70.6 120.3h.8v.8h-.8zM55.0 111.9h.8v.8h-.8zM58.4 121.2h.8v.8h-.8zM66.4 113.5h.8v.8h-.8zM60.5 118.0h.8v.8h-.8zM62.5 108.3h.8v.8h-.8zM64.7 108.2h.8v.8h-.8zM71.8 116.8h.8v.8h-.8zM60.8 119.9h.8v.8h-.8zM62.8 108.5h.8v.8h-.8zM54.0 103.2h.8v.8h-.8zM57.3 119.0h.8v.8h-.8zM70.6 106.7h.8v.8h-.8zM65.9 116.3h.8v.8h-.8zM70.3 115.8h.8v.8h-.8zM74.0 117.3h.8v.8h-.8zM59.8 118.6h.8v.8h-.8zM47.9 117.5h.8v.8h-.8zM65.5 118.4h.8v.8h-.8zM64.0 121.0h.8v.8h-.8zM70.8 104.9h.8v.8h-.8zM61.0 117.1h.8v.8h-.8zM67.6 114.1h.8v.8h-.8zM66.8 103.2h.8v.8h-.8zM71.9 121.3h.8v.8h-.8zM72.4 115.0h.8v.8h-.8zM63.4 117.5h.8v.8h-.8zM59.7 102.0h.8v.8h-.8zM59.9 114.9h.8v.8h-.8zM58.3 107.9h.8v.8h-.8zM61.6 111.6h.8v.8h-.8zM64.3 113.5h.8v.8h-.8zM67.5 121.2h.8v.8h-.8zM65.9 116.8h.8v.8h-.8zM48.9 94.0h.8v.8h-.8zM62.9 120.0h.8v.8h-.8zM60.3 109.9h.8v.8h-.8zM57.8 123.4h.8v.8h-.8zM61.1 117.0h.8v.8h-.8zM72.8 115.8h.8v.8h-.8zM78.7 108.3h.8v.8h-.8zM72.0 117.3h.8v.8h-.8zM59.7 115.7h.8v.8h-.8zM57.8 107.3h.8v.8h-.8zM64.2 107.5h.8v.8h-.8zM73.5 104.9h.8v.8h-.8zM60.6 115.8h.8v.8h-.8zM60.7 115.5h.8v.8h-.8zM56.6 104.4h.8v.8h-.8zM44.8 109.1h.8v.8h-.8zM75.2 114.2h.8v.8h-.8zM63.9 110.1h.8v.8h-.8zM63.7 116.6h.8v.8h-.8zM52.8 110.8h.8v.8h-.8zM61.0 125.5h.8v.8h-.8zM59.7 125.1h.8v.8h-.8zM63.6 114.4h.8v.8h-.8zM75.1 117.9h.8v.8h-.8zM67.8 103.9h.8v.8h-.8zM75.6 124.5h.8v.8h-.8zM62.2 110.5h.8v.8h-.8zM59.1 124.0h.8v.8h-.8zM66.0 113.4h.8v.8h-.8zM59.6 128.9h.8v.8h-.8zM69.8 112.0h.8v.8h-.8zM71.6 103.7h.8v.8h-.8zM67.5 104.5h.8v.8h-.8zM72.8 109.0h.8v.8h-.8zM71.2 108.3h.8v.8h-.8zM69.4 121.9h.8v.8h-.8zM58.2 116.6h.8v.8h-.8zM60.4 122.2h.8v.8h-.8zM59.1 112.4h.8v.8h-.8zM65.4 123.3h.8v.8h-.8zM57.0 116.0h.8v.8h-.8zM60.5 110.5h.8v.8h-.8zM58.4 114.4h.8v.8h-.8zM61.7 101.8h.8v.8h-.8zM62.8 104.5h.8v.8h-.8zM69.5 131.4h.8v.8h-.8zM57.4 115.5h.8v.8h-.8zM64.6 122.0h.8v.8h-.8zM56.6 101.3h.8v.8h-.8zM53.6 118.7h.8v.8h-.8zM68.2 121.6h.8v.8h-.8zM62.0 120.2h.8v.8h-.8zM59.9 126.1h.8v.8h-.8zM61.9 109.0h.8v.8h-.8zM69.3 127.0h.8v.8h-.8zM55.4 106.3h.8v.8h-.8zM54.5 107.3h.8v.8h-.8zM64.5 116.8h.8v.8h-.8zM63.4 115.8h.8v.8h-.8zM71.2 109.3h.8v.8h-.8zM50.2 99.1h.8v.8h-.8zM64.0 108.3h.8v.8h-.8zM63.3 117.6h.8v.8h-.8zM63.4 101.1h.8v.8h-.8zM57.8 116.5h.8v.8h-.8zM65.7 123.1h.8v.8h-.8zM55.8 99.3h.8v.8h-.8zM68.0 99.1h.8v.8h-.8zM58.4 119.0h.8v.8h-.8zM66.9 117.6h.8v.8h-.8zM66.3 131.8h.8v.8h-.8zM65.9 107.4h.8v.8h-.8zM68.4 98.5h.8v.8h-.8zM60.8 117.4h.8v.8h-.8zM62.7 106.4h.8v.8h-.8zM78.0 122.0h.8v.8h-.8zM58.6 118.8h.8v.8h-.8zM58.7 112.0h.8v.8h-.8zM70.9 112.9h.8v.8h-.8zM63.5 115.0h.8v.8h-.8zM59.0 125.8h.8v.8h-.8zM62.1 125.6h.8v.8h-.8zM59.9 111.5h.8v.8h-.8zM74.4 112.4h.8v.8h-.8zM58.5 111.2h.8v.8h-.8zM72.5 127.0h.8v.8h-.8zM67.2 109.7h.8v.8h-.8zM54.9 111.2h.8v.8h-.8zM63.8 116.1h.8v.8h-.8zM62.6 125.1h.8v.8h-.8zM55.9 110.5h.8v.8h-.8zM68.5 116.6h.8v.8h-.8zM63.7 122.2h.8v.8h-.8zM58.4 129.4h.8v.8h-.8zM83.2 124.4h.8v.8h-.8zM69.4 128.8h.8v.8h-.8zM67.5 124.0h.8v.8h-.8zM63.1 115.9h.8v.8h-.8zM63.4 99.6h.8v.8h-.8zM66.7 127.6h.8v.8h-.8zM45.4 123.0h.8v.8h-.8zM70.9 114.6h.8v.8h-.8zM68.6 124.2h.8v.8h-.8zM61.8 98.8h.8v.8h-.8zM57.0 113.7h.8v.8h-.8zM63.9 110.3h.8v.8h-.8z" fill="#555" fill-opacity="0.55"/>
<path d="M45.7 123.3h.8v.8h-.8zM48.8 114.8h.8v.8h-.8zM46.0 110.5h.8v.8h-.8zM47.1 111.9h.8v.8h-.8zM43.8 116.2h.8v.8h-.8zM43.5 109.7h.8v.8h-.8zM44.9 100.8h.8v.8h-.8zM47.8 109.4h.8v.8h-.8zM42.5 109.4h.8v.8h-.8zM41.9 121.5h.8v.8h-.8zM47.5 125.9h.8v.8h-.8zM44.3 115.6h.8v.8h-.8zM43.1 103.2h.8v.8h-.8zM45.7 113.3h.8v.8h-.8zM48.8 107.9h.8v.8h-.8zM49.3 117.7h.8v.8h-.8zM43.4 108.6h.8v.8h-.8zM43.3 123.6h.8v.8h-.8zM44.4 117.1h.8v.8h-.8zM48.7 108.0h.8v.8h-.8zM44.5 112.7h.8v.8h-.8zM43.7 99.9h.8v.8h-.8zM43.1 112.7h.8v.8h-.8zM46.6 124.0h.8v.8h-.8zM40.5 114.0h.8v.8h-.8zM42.6 119.2h.8v.8h-.8zM48.1 111.0h.8v.8h-.8zM50.4 107.0h.8v.8h-.8zM44.4 101.6h.8v.8h-.8zM44.0 110.9h.8v.8h-.8zM48.0 120.2h.8v.8h-.8zM45.2 104.2h.8v.8h-.8zM45.0 106.6h.8v.8h-.8zM44.6 106.8h.8v.8h-.8zM43.4 109.6h.8v.8h-.8z" fill="#888" fill-opacity="0.5"/>
<path d="M68.5 108.3h.8v.8h-.8zM64.1 109.6h.8v.8h-.8zM73.8 111.6h.8v.8h-.8zM68.3 104.5h.8v.8h-.8zM64.5 104.3h.8v.8h-.8zM67.8 107.8h.8v.8h-.8zM62.2 111.7h.8v.8h-.8zM63.4 106.3h.8v.8h-.8zM67.4 112.3h.8v.8h-.8zM80.1 107.6h.8v.8h-.8zM69.6 107.4h.8v.8h-.8zM70.0 108.3h.8v.8h-.8zM70.5 105.9h.8v.8h-.8zM72.8 106.9h.8v.8h-.8zM73.9 104.7h.8v.8h-.8zM81.5 109.8h.8v.8h-.8zM62.2 111.8h.8v.8h-.8zM68.7 104.4h.8v.8h-.8zM73.2 107.0h.8v.8h-.8zM74.7 106.8h.8v.8h-.8zM75.5 109.6h.8v.8h-.8zM72.8 109.6h.8v.8h-.8zM69.2 107.6h.8v.8h-.8zM73.2 111.8h.8v.8h-.8zM69.0 117.8h.8v.8h-.8zM79.4 104.5h.8v.8h-.8zM76.4 108.7h.8v.8h-.8zM72.2 105.9h.8v.8h-.8zM79.2 105.7h.8v.8h-.8zM70.6 106.1h.8v.8h-.8zM80.6 114.0h.8v.8h-.8zM64.5 107.2h.8v.8h-.8zM72.8 107.3h.8v.8h-.8zM69.3 104.8h.8v.8h-.8zM72.2 104.7h.8v.8h-.8zM75.1 118.5h.8v.8h-.8zM69.4 115.5h.8v.8h-.8zM72.8 106.4h.8v.8h-.8zM69.3 105.2h.8v.8h-.8zM71.6 111.8h.8v.8h-.8zM75.6 107.9h.8v.8h-.8zM65.1 108.7h.8v.8h-.8zM79.3 110.1h.8v.8h-.8zM70.7 100.8h.8v.8h-.8zM68.9 111.1h.8v.8h-.8zM66.3 114.3h.8v.8h-.8zM68.2 105.6h.8v.8h-.8zM68.1 108.6h.8v.8h-.8zM75.9 106.8h.8v.8h-.8zM62.2 108.7h.8v.8h-.8zM73.6 115.1h.8v.8h-.8zM65.5 114.8h.8v.8h-.8zM74.3 110.8h.8v.8h-.8zM67.2 105.5h.8v.8h-.8zM66.3 112.7h.8v.8h-.8zM72.1 113.2h.8v.8h-.8zM80.0 109.1h.8v.8h-.8zM70.8 116.5h.8v.8h-.8zM64.6 107.3h.8v.8h-.8zM69.2 107.5h.8v.8h-.8zM71.7 105.7h.8v.8h-.8zM76.7 103.7h.8v.8h-.8zM67.0 102.4h.8v.8h-.8zM64.1 111.3h.8v.8h-.8zM74.1 108.2h.8v.8h-.8zM75.2 111.4h.8v.8h-.8zM68.2 108.9h.8v.8h-.8zM72.8 116.9h.8v.8h-.8zM68.8 110.5h.8v.8h-.8zM73.7 113.8h.8v.8h-.8zM73.1 113.2h.8v.8h-.8zM65.8 108.0h.8v.8h-.8zM61.5 108.8h.8v.8h-.8zM71.4 110.1h.8v.8h-.8zM71.7 103.8h.8v.8h-.8zM67.6 108.3h.8v.8h-.8zM71.8 105.6h.8v.8h-.8zM70.5 106.2h.8v.8h-.8zM64.5 106.4h.8v.8h-.8zM67.0 112.3h.8v.8h-.8zM77.6 111.3h.8v.8h-.8zM70.0 106.8h.8v.8h-.8zM63.3 107.0h.8v.8h-.8zM78.7 113.5h.8v.8h-.8zM72.1 108.1h.8v.8h-.8zM71.0 110.7h.8v.8h-.8zM71.0 110.7h.8v.8h-.8zM67.2 109.2h.8v.8h-.8zM69.3 113.2h.8v.8h-.8zM64.9 114.1h.8v.8h-.8z" fill="#555" fill-opacity="0.5"/>
<line x1="128.50" y1="90.70" x2="128.50" y2="160.20" stroke="#777" stroke-width="1"/>
<line x1="139.50" y1="90.70" x2="139.50" y2="160.20" stroke="#777" stroke-width="1"/>
<line x1="128.50" y1="131.20" x2="203.50" y2="131.20" stroke="#777" stroke-width="1"/>
<line x1="128.50" y1="160.20" x2="203.50" y2="160.20" stroke="#777" stroke-width="1"/>
<text x="140.5" y="88.9" font-size="5.6" font-weight="normal" text-anchor="start" fill="#222" >CD34+ CD38-</text>
<text x="130.5" y="121.6" font-size="5.4" font-weight="normal" text-anchor="start" fill="#333" >Q1</text>
<text x="148.5" y="121.6" font-size="5.4" font-weight="normal" text-anchor="start" fill="#333" >Q2</text>
<text x="130.5" y="145.0" font-size="5.4" font-weight="normal" text-anchor="start" fill="#333" >Q3</text>
<text x="148.5" y="145.0" font-size="5.4" font-weight="normal" text-anchor="start" fill="#333" >Q4</text>
<path d="M151.5 119.4h.8v.8h-.8zM153.4 121.4h.8v.8h-.8zM153.4 123.0h.8v.8h-.8zM147.2 116.0h.8v.8h-.8zM154.9 119.6h.8v.8h-.8zM158.7 119.2h.8v.8h-.8zM150.4 129.4h.8v.8h-.8zM152.4 124.3h.8v.8h-.8zM162.0 120.7h.8v.8h-.8zM149.7 122.8h.8v.8h-.8zM150.1 126.6h.8v.8h-.8zM152.1 116.2h.8v.8h-.8zM156.6 123.5h.8v.8h-.8zM153.7 117.0h.8v.8h-.8zM148.3 118.3h.8v.8h-.8zM150.1 124.7h.8v.8h-.8zM156.4 125.7h.8v.8h-.8zM153.0 119.3h.8v.8h-.8zM152.8 129.4h.8v.8h-.8zM153.4 120.6h.8v.8h-.8zM147.6 119.2h.8v.8h-.8zM152.4 116.3h.8v.8h-.8zM156.2 122.2h.8v.8h-.8zM147.9 115.9h.8v.8h-.8zM157.7 125.3h.8v.8h-.8zM147.6 118.1h.8v.8h-.8zM156.5 119.4h.8v.8h-.8zM154.3 126.7h.8v.8h-.8zM153.4 123.2h.8v.8h-.8zM150.0 119.1h.8v.8h-.8zM151.5 117.5h.8v.8h-.8zM146.7 122.5h.8v.8h-.8zM159.2 122.6h.8v.8h-.8zM161.6 120.4h.8v.8h-.8zM158.2 118.8h.8v.8h-.8zM152.9 123.6h.8v.8h-.8zM152.1 125.5h.8v.8h-.8zM152.4 122.8h.8v.8h-.8zM150.3 122.2h.8v.8h-.8zM155.3 118.4h.8v.8h-.8zM151.8 123.4h.8v.8h-.8zM155.1 118.7h.8v.8h-.8zM145.9 117.7h.8v.8h-.8zM151.9 127.5h.8v.8h-.8zM154.0 122.9h.8v.8h-.8zM156.8 120.0h.8v.8h-.8zM153.1 118.3h.8v.8h-.8zM150.0 126.4h.8v.8h-.8zM154.2 123.3h.8v.8h-.8zM149.7 122.6h.8v.8h-.8zM156.7 114.1h.8v.8h-.8zM156.5 125.6h.8v.8h-.8zM152.7 121.9h.8v.8h-.8zM148.9 128.0h.8v.8h-.8zM154.9 126.5h.8v.8h-.8zM151.9 119.9h.8v.8h-.8zM153.7 119.3h.8v.8h-.8zM155.4 127.6h.8v.8h-.8zM156.1 119.5h.8v.8h-.8zM157.3 122.4h.8v.8h-.8z" fill="#333" fill-opacity="0.6"/>
<path d="M144.3 105.1h.8v.8h-.8zM142.3 106.0h.8v.8h-.8zM144.2 105.9h.8v.8h-.8zM139.8 104.8h.8v.8h-.8zM143.8 102.7h.8v.8h-.8zM142.0 106.9h.8v.8h-.8zM142.7 104.3h.8v.8h-.8zM141.9 103.9h.8v.8h-.8zM145.9 104.1h.8v.8h-.8zM135.5 102.1h.8v.8h-.8zM143.2 105.5h.8v.8h-.8zM140.2 101.9h.8v.8h-.8zM141.4 103.0h.8v.8h-.8zM139.4 105.0h.8v.8h-.8zM139.0 105.8h.8v.8h-.8zM139.1 103.9h.8v.8h-.8zM141.1 108.5h.8v.8h-.8zM148.2 107.3h.8v.8h-.8zM139.1 105.0h.8v.8h-.8zM145.6 107.0h.8v.8h-.8zM135.6 104.9h.8v.8h-.8zM139.1 106.8h.8v.8h-.8zM144.5 103.8h.8v.8h-.8zM150.4 104.4h.8v.8h-.8zM151.6 104.6h.8v.8h-.8zM141.7 109.6h.8v.8h-.8zM139.9 103.9h.8v.8h-.8zM147.8 104.9h.8v.8h-.8zM143.9 102.0h.8v.8h-.8zM149.0 107.4h.8v.8h-.8zM143.4 106.7h.8v.8h-.8zM140.0 103.9h.8v.8h-.8zM135.8 105.9h.8v.8h-.8zM146.8 107.1h.8v.8h-.8zM145.6 106.7h.8v.8h-.8zM138.4 101.9h.8v.8h-.8zM144.5 105.4h.8v.8h-.8zM145.9 104.4h.8v.8h-.8zM138.5 106.1h.8v.8h-.8zM139.8 101.1h.8v.8h-.8z" fill="#444" fill-opacity="0.55"/>
<path d="M140.6 103.8h.8v.8h-.8zM136.2 106.9h.8v.8h-.8zM161.2 108.2h.8v.8h-.8zM156.1 111.5h.8v.8h-.8zM149.5 105.7h.8v.8h-.8zM145.3 96.2h.8v.8h-.8zM161.8 104.9h.8v.8h-.8zM151.2 106.6h.8v.8h-.8zM148.4 101.0h.8v.8h-.8zM142.7 120.9h.8v.8h-.8zM153.5 99.7h.8v.8h-.8zM148.5 117.1h.8v.8h-.8zM140.3 109.1h.8v.8h-.8zM143.8 116.0h.8v.8h-.8zM154.1 125.1h.8v.8h-.8zM148.9 131.1h.8v.8h-.8zM137.7 129.1h.8v.8h-.8zM143.7 119.5h.8v.8h-.8zM144.9 113.0h.8v.8h-.8zM137.9 115.9h.8v.8h-.8zM163.8 113.6h.8v.8h-.8zM145.8 112.2h.8v.8h-.8zM152.3 110.2h.8v.8h-.8zM146.0 114.2h.8v.8h-.8zM157.5 121.2h.8v.8h-.8zM136.7 106.2h.8v.8h-.8zM146.2 120.2h.8v.8h-.8zM154.5 110.2h.8v.8h-.8zM164.7 110.6h.8v.8h-.8zM158.4 125.7h.8v.8h-.8zM160.1 114.1h.8v.8h-.8zM151.1 97.6h.8v.8h-.8zM130.3 106.4h.8v.8h-.8zM152.3 122.3h.8v.8h-.8zM145.1 122.0h.8v.8h-.8zM151.1 126.6h.8v.8h-.8zM132.0 104.3h.8v.8h-.8zM137.6 102.2h.8v.8h-.8zM160.5 103.4h.8v.8h-.8zM138.7 108.4h.8v.8h-.8zM153.8 107.8h.8v.8h-.8zM152.5 117.4h.8v.8h-.8zM137.9 100.3h.8v.8h-.8zM160.4 105.3h.8v.8h-.8zM136.6 115.7h.8v.8h-.8zM146.5 103.3h.8v.8h-.8zM155.7 120.8h.8v.8h-.8zM148.5 105.0h.8v.8h-.8zM149.4 115.9h.8v.8h-.8zM137.9 112.4h.8v.8h-.8zM130.9 117.9h.8v.8h-.8zM142.2 107.5h.8v.8h-.8zM151.5 110.9h.8v.8h-.8zM154.8 117.0h.8v.8h-.8zM156.2 113.3h.8v.8h-.8zM131.0 122.1h.8v.8h-.8zM148.2 98.9h.8v.8h-.8zM146.6 120.5h.8v.8h-.8zM137.0 112.5h.8v.8h-.8zM139.5 102.6h.8v.8h-.8z" fill="#999" fill-opacity="0.5"/>
<path d="M157.6 124.7h.8v.8h-.8zM162.7 121.0h.8v.8h-.8zM159.7 121.4h.8v.8h-.8zM161.1 121.6h.8v.8h-.8zM153.3 123.7h.8v.8h-.8zM156.6 113.6h.8v.8h-.8zM162.8 117.6h.8v.8h-.8zM159.4 120.8h.8v.8h-.8zM157.7 122.6h.8v.8h-.8zM158.9 120.2h.8v.8h-.8zM156.3 120.2h.8v.8h-.8zM155.9 121.2h.8v.8h-.8zM165.2 123.9h.8v.8h-.8zM161.7 117.1h.8v.8h-.8zM164.0 123.7h.8v.8h-.8zM168.1 114.6h.8v.8h-.8zM160.1 120.1h.8v.8h-.8zM164.3 117.9h.8v.8h-.8zM158.5 127.7h.8v.8h-.8zM163.9 115.3h.8v.8h-.8zM160.1 124.9h.8v.8h-.8zM157.6 122.7h.8v.8h-.8zM160.4 116.9h.8v.8h-.8zM157.5 124.3h.8v.8h-.8zM164.7 119.3h.8v.8h-.8zM164.4 119.0h.8v.8h-.8zM161.0 121.0h.8v.8h-.8zM155.1 121.9h.8v.8h-.8zM158.5 113.2h.8v.8h-.8zM156.7 118.6h.8v.8h-.8z" fill="#777" fill-opacity="0.5"/>
<text x="109.8" y="176.6" font-size="10" font-weight="bold" text-anchor="start" fill="#000" >DAG1</text>
<text transform="translate(32.9,100.6) rotate(-90)" font-size="8.8" font-weight="bold" textLength="40.8" lengthAdjust="spacingAndGlyphs">NRXN1<tspan font-weight="normal" font-family="Liberation Serif" font-style="italic" fill="#222">α</tspan></text>
<text x="268.5" y="9.4" font-size="11.4" font-weight="bold" text-anchor="start" fill="#000" >A<tspan font-size="9.8" font-weight="normal" fill="#555" dx="0.9">ii</tspan></text>
<line x1="344.70" y1="12.20" x2="491.50" y2="12.20" stroke="#333" stroke-width="1.2"/>
<line x1="344.70" y1="12.20" x2="344.70" y2="34.80" stroke="#333" stroke-width="1.2"/>
<line x1="491.50" y1="12.20" x2="491.50" y2="34.80" stroke="#333" stroke-width="1.2"/>
<line x1="274.50" y1="34.70" x2="491.50" y2="34.70" stroke="#333" stroke-width="1.2"/>
<line x1="274.50" y1="58.80" x2="491.50" y2="58.80" stroke="#333" stroke-width="1.2"/>
<line x1="274.50" y1="79.50" x2="491.50" y2="79.50" stroke="#333" stroke-width="1.2"/>
<line x1="274.50" y1="99.80" x2="491.50" y2="99.80" stroke="#333" stroke-width="1.2"/>
<line x1="274.50" y1="120.50" x2="491.50" y2="120.50" stroke="#333" stroke-width="1.2"/>
<line x1="274.50" y1="140.50" x2="491.50" y2="140.50" stroke="#333" stroke-width="1.2"/>
<line x1="274.50" y1="34.80" x2="274.50" y2="140.50" stroke="#333" stroke-width="1.2"/>
<line x1="344.50" y1="34.80" x2="344.50" y2="140.50" stroke="#333" stroke-width="1.2"/>
<line x1="393.50" y1="34.80" x2="393.50" y2="140.50" stroke="#333" stroke-width="1.2"/>
<line x1="442.50" y1="34.80" x2="442.50" y2="140.50" stroke="#333" stroke-width="1.2"/>
<line x1="491.50" y1="34.80" x2="491.50" y2="140.50" stroke="#333" stroke-width="1.2"/>
<text x="418.1" y="26.9" font-size="8.6" font-weight="bold" text-anchor="middle" fill="#111" >Percent Cells Expressing:</text>
<text x="309.6" y="50.0" font-size="7.2" font-weight="bold" text-anchor="middle" fill="#111" >Cell Type</text>
<text x="369.1" y="50.0" font-size="6.8" font-weight="bold" text-anchor="middle" fill="#111" >DAG1</text>
<text x="418.0" y="50.0" font-size="6.8" font-weight="bold" text-anchor="middle" fill="#111" >NRXN1<tspan font-weight="normal">α</tspan></text>
<text x="467.0" y="45.8" font-size="6.8" font-weight="bold" text-anchor="middle" fill="#111" >DAG1+</text>
<text x="467.0" y="54.6" font-size="6.8" font-weight="bold" text-anchor="middle" fill="#111" >NRXN1<tspan font-weight="normal">α</tspan></text>
<text x="278.6" y="71.7" font-size="7.2" font-weight="bold" text-anchor="start" fill="#111" >Lineage+</text>
<text x="369.0" y="71.9" font-size="7.5" font-weight="normal" text-anchor="middle" fill="#222" >28.5±6.1</text>
<text x="418.0" y="71.9" font-size="7.5" font-weight="normal" text-anchor="middle" fill="#222" >33.8±12.0</text>
<text x="467.0" y="71.9" font-size="7.5" font-weight="normal" text-anchor="middle" fill="#222" >21.3±7.1</text>
<text x="278.6" y="92.2" font-size="7.2" font-weight="bold" text-anchor="start" fill="#111" >CD34+</text>
<text x="369.0" y="92.4" font-size="7.5" font-weight="normal" text-anchor="middle" fill="#222" >95.4±5.1</text>
<text x="418.0" y="92.4" font-size="7.5" font-weight="normal" text-anchor="middle" fill="#222" >95.3±4.4</text>
<text x="467.0" y="92.4" font-size="7.5" font-weight="normal" text-anchor="middle" fill="#222" >90.9±8.1</text>
<text x="278.6" y="112.7" font-size="7.2" font-weight="bold" text-anchor="start" fill="#111" >CD34+ CD38+</text>
<text x="369.0" y="112.9" font-size="7.5" font-weight="normal" text-anchor="middle" fill="#222" >95.2±4.8</text>
<text x="418.0" y="112.9" font-size="7.5" font-weight="normal" text-anchor="middle" fill="#222" >93.6±5.2</text>
<text x="467.0" y="112.9" font-size="7.5" font-weight="normal" text-anchor="middle" fill="#222" >90.5±6.8</text>
<text x="278.6" y="133.0" font-size="7.2" font-weight="bold" text-anchor="start" fill="#111" >CD34+ CD38-</text>
<text x="369.0" y="133.2" font-size="7.5" font-weight="normal" text-anchor="middle" fill="#222" >93.7±8.7</text>
<text x="418.0" y="133.2" font-size="7.5" font-weight="normal" text-anchor="middle" fill="#222" >85.8±16.1</text>
<text x="467.0" y="133.2" font-size="7.5" font-weight="normal" text-anchor="middle" fill="#222" >81.8±17.5</text>
<text x="0.8" y="200.2" font-size="10.8" font-weight="bold" text-anchor="start" fill="#000" >B</text>
<line x1="27.20" y1="214.00" x2="27.20" y2="324.70" stroke="#666" stroke-width="1"/>
<line x1="27.20" y1="324.70" x2="167.60" y2="324.70" stroke="#666" stroke-width="1"/>
<text x="24.8" y="327.8" font-size="6.6" font-weight="bold" text-anchor="end" fill="#222" >-20</text>
<text x="24.8" y="314.0" font-size="6.6" font-weight="bold" text-anchor="end" fill="#222" >-10</text>
<text x="24.8" y="300.3" font-size="6.6" font-weight="bold" text-anchor="end" fill="#222" >0</text>
<text x="24.8" y="286.6" font-size="6.6" font-weight="bold" text-anchor="end" fill="#222" >10</text>
<text x="24.8" y="272.8" font-size="6.6" font-weight="bold" text-anchor="end" fill="#222" >20</text>
<text x="24.8" y="259.1" font-size="6.6" font-weight="bold" text-anchor="end" fill="#222" >30</text>
<text x="24.8" y="245.4" font-size="6.6" font-weight="bold" text-anchor="end" fill="#222" >40</text>
<text x="24.8" y="231.6" font-size="6.6" font-weight="bold" text-anchor="end" fill="#222" >50</text>
<text x="24.8" y="217.9" font-size="6.6" font-weight="bold" text-anchor="end" fill="#222" >60</text>
<text transform="translate(13.8,300.5) rotate(-90)" font-size="8.6" font-weight="bold" fill="#111">% Inhibition</text>
<line x1="34.60" y1="280.79" x2="34.60" y2="311.19" stroke="#888" stroke-width="0.9"/>
<rect x="31.60" y="295.99" width="6.00" height="0.41" fill="#fff" stroke="#888" stroke-width="0.6"/>
<line x1="40.90" y1="296.68" x2="40.90" y2="324.68" stroke="#888" stroke-width="0.9"/>
<rect x="37.60" y="296.40" width="6.60" height="14.28" fill="#000" stroke="none" stroke-width="0"/>
<line x1="56.75" y1="286.43" x2="56.75" y2="305.83" stroke="#888" stroke-width="0.9"/>
<rect x="53.75" y="296.13" width="6.00" height="0.27" fill="#fff" stroke="#888" stroke-width="0.6"/>
<line x1="63.05" y1="274.66" x2="63.05" y2="301.66" stroke="#888" stroke-width="0.9"/>
<rect x="59.75" y="288.16" width="6.60" height="8.24" fill="#000" stroke="none" stroke-width="0"/>
<line x1="78.90" y1="283.51" x2="78.90" y2="307.91" stroke="#888" stroke-width="0.9"/>
<rect x="75.90" y="295.71" width="6.00" height="0.69" fill="#fff" stroke="#888" stroke-width="0.6"/>
<line x1="85.20" y1="282.13" x2="85.20" y2="301.33" stroke="#888" stroke-width="0.9"/>
<rect x="81.90" y="291.73" width="6.60" height="4.67" fill="#000" stroke="none" stroke-width="0"/>
<line x1="101.05" y1="278.01" x2="101.05" y2="313.41" stroke="#888" stroke-width="0.9"/>
<rect x="98.05" y="295.71" width="6.00" height="0.69" fill="#fff" stroke="#888" stroke-width="0.6"/>
<line x1="107.35" y1="223.39" x2="107.35" y2="250.79" stroke="#888" stroke-width="0.9"/>
<rect x="104.05" y="237.09" width="6.60" height="59.31" fill="#000" stroke="none" stroke-width="0"/>
<line x1="123.20" y1="276.58" x2="123.20" y2="314.58" stroke="#888" stroke-width="0.9"/>
<rect x="120.20" y="295.58" width="6.00" height="0.82" fill="#fff" stroke="#888" stroke-width="0.6"/>
<line x1="129.50" y1="282.42" x2="129.50" y2="320.82" stroke="#888" stroke-width="0.9"/>
<rect x="126.20" y="296.40" width="6.60" height="5.22" fill="#000" stroke="none" stroke-width="0"/>
<line x1="145.35" y1="287.41" x2="145.35" y2="304.01" stroke="#888" stroke-width="0.9"/>
<rect x="142.35" y="295.71" width="6.00" height="0.69" fill="#fff" stroke="#888" stroke-width="0.6"/>
<line x1="151.65" y1="282.56" x2="151.65" y2="298.16" stroke="#888" stroke-width="0.9"/>
<rect x="148.35" y="290.36" width="6.60" height="6.04" fill="#000" stroke="none" stroke-width="0"/>
<line x1="27.20" y1="296.40" x2="167.60" y2="296.40" stroke="#777" stroke-width="1"/>
<circle cx="103.9" cy="220.7" r="1.55" fill="#111"/>
<circle cx="108.2" cy="220.7" r="1.55" fill="#111"/>
<circle cx="112.5" cy="220.7" r="1.55" fill="#111"/>
<rect x="126.60" y="244.40" width="2.60" height="5.00" fill="#fff" stroke="#222" stroke-width="0.8"/>
<rect x="126.20" y="251.00" width="3.20" height="5.40" fill="#000" stroke="none" stroke-width="0"/>
<text x="131.8" y="249.2" font-size="6.7" font-weight="bold" text-anchor="start" fill="#111" >Control</text>
<text x="131.8" y="256.3" font-size="6.7" font-weight="bold" text-anchor="start" fill="#111" >NXPH1</text>
<text transform="translate(42.1,328.4) rotate(-90)" font-size="6.6" font-weight="bold" text-anchor="end" fill="#111">SCF</text>
<text transform="translate(63.6,328.4) rotate(-90)" font-size="6.6" font-weight="bold" text-anchor="end" fill="#111">GM-CSF</text>
<text transform="translate(84.4,328.4) rotate(-90)" font-size="6.6" font-weight="bold" text-anchor="end" fill="#111">IL-3</text>
<text transform="translate(107.5,328.4) rotate(-90)" font-size="6.6" font-weight="bold" text-anchor="end" fill="#111">GM-CSF+SCF</text>
<text transform="translate(129.9,328.4) rotate(-90)" font-size="6.6" font-weight="bold" text-anchor="end" fill="#111">IL-3+SCF</text>
<text transform="translate(146.8,328.4) rotate(-90)" font-size="6.6" font-weight="bold" text-anchor="end" fill="#111">GM-CSF+IL-3+</text>
<text transform="translate(155.5,328.4) rotate(-90)" font-size="6.6" font-weight="bold" text-anchor="end" fill="#111">SCF+Epo</text>
<text x="174.3" y="200.3" font-size="11.3" font-weight="bold" text-anchor="start" fill="#000" >C</text>
<line x1="194.00" y1="236.50" x2="194.00" y2="349.70" stroke="#555" stroke-width="1.3"/>
<line x1="194.00" y1="349.70" x2="339.00" y2="349.70" stroke="#555" stroke-width="1.3"/>
<line x1="191.70" y1="350.20" x2="194.00" y2="350.20" stroke="#555" stroke-width="1"/>
<text x="189.1" y="352.2" font-size="6.3" font-weight="bold" text-anchor="end" fill="#222" >-20</text>
<line x1="191.70" y1="337.60" x2="194.00" y2="337.60" stroke="#555" stroke-width="1"/>
<text x="189.1" y="339.6" font-size="6.3" font-weight="bold" text-anchor="end" fill="#222" >-10</text>
<line x1="191.70" y1="325.00" x2="194.00" y2="325.00" stroke="#555" stroke-width="1"/>
<text x="189.1" y="327.0" font-size="6.3" font-weight="bold" text-anchor="end" fill="#222" >0</text>
<line x1="191.70" y1="312.40" x2="194.00" y2="312.40" stroke="#555" stroke-width="1"/>
<text x="189.1" y="314.4" font-size="6.3" font-weight="bold" text-anchor="end" fill="#222" >10</text>
<line x1="191.70" y1="299.80" x2="194.00" y2="299.80" stroke="#555" stroke-width="1"/>
<text x="189.1" y="301.8" font-size="6.3" font-weight="bold" text-anchor="end" fill="#222" >20</text>
<line x1="191.70" y1="287.20" x2="194.00" y2="287.20" stroke="#555" stroke-width="1"/>
<text x="189.1" y="289.2" font-size="6.3" font-weight="bold" text-anchor="end" fill="#222" >30</text>
<line x1="191.70" y1="274.60" x2="194.00" y2="274.60" stroke="#555" stroke-width="1"/>
<text x="189.1" y="276.6" font-size="6.3" font-weight="bold" text-anchor="end" fill="#222" >40</text>
<line x1="191.70" y1="262.00" x2="194.00" y2="262.00" stroke="#555" stroke-width="1"/>
<text x="189.1" y="264.0" font-size="6.3" font-weight="bold" text-anchor="end" fill="#222" >50</text>
<line x1="191.70" y1="249.40" x2="194.00" y2="249.40" stroke="#555" stroke-width="1"/>
<text x="189.1" y="251.4" font-size="6.3" font-weight="bold" text-anchor="end" fill="#222" >60</text>
<line x1="191.70" y1="236.80" x2="194.00" y2="236.80" stroke="#555" stroke-width="1"/>
<text x="189.1" y="238.8" font-size="6.3" font-weight="bold" text-anchor="end" fill="#222" >70</text>
<line x1="194.00" y1="325.00" x2="339.00" y2="325.00" stroke="#333" stroke-width="1"/>
<rect x="198.30" y="324.75" width="4.75" height="0.25" fill="#fff" stroke="#000" stroke-width="0.7"/>
<line x1="200.50" y1="321.85" x2="200.50" y2="327.65" stroke="#222" stroke-width="0.9"/>
<line x1="199.40" y1="321.85" x2="201.60" y2="321.85" stroke="#222" stroke-width="0.9"/>
<line x1="199.40" y1="327.65" x2="201.60" y2="327.65" stroke="#222" stroke-width="0.9"/>
<rect x="203.65" y="325.00" width="4.75" height="3.28" fill="#000" stroke="#000" stroke-width="0.7"/>
<line x1="206.50" y1="321.47" x2="206.50" y2="335.08" stroke="#222" stroke-width="0.9"/>
<line x1="205.40" y1="321.47" x2="207.60" y2="321.47" stroke="#222" stroke-width="0.9"/>
<line x1="205.40" y1="335.08" x2="207.60" y2="335.08" stroke="#222" stroke-width="0.9"/>
<rect x="209.00" y="325.00" width="4.75" height="0.50" fill="#4d4d4d" stroke="#222" stroke-width="0.7"/>
<line x1="211.50" y1="322.48" x2="211.50" y2="328.53" stroke="#222" stroke-width="0.9"/>
<line x1="210.40" y1="322.48" x2="212.60" y2="322.48" stroke="#222" stroke-width="0.9"/>
<line x1="210.40" y1="328.53" x2="212.60" y2="328.53" stroke="#222" stroke-width="0.9"/>
<rect x="214.35" y="325.00" width="4.75" height="3.53" fill="#bfbfbf" stroke="#555" stroke-width="0.7"/>
<line x1="217.50" y1="324.12" x2="217.50" y2="332.94" stroke="#222" stroke-width="0.9"/>
<line x1="216.40" y1="324.12" x2="218.60" y2="324.12" stroke="#222" stroke-width="0.9"/>
<line x1="216.40" y1="332.94" x2="218.60" y2="332.94" stroke="#222" stroke-width="0.9"/>
<rect x="227.40" y="324.75" width="4.75" height="0.25" fill="#fff" stroke="#000" stroke-width="0.7"/>
<line x1="230.50" y1="321.22" x2="230.50" y2="328.28" stroke="#222" stroke-width="0.9"/>
<line x1="229.40" y1="321.22" x2="231.60" y2="321.22" stroke="#222" stroke-width="0.9"/>
<line x1="229.40" y1="328.28" x2="231.60" y2="328.28" stroke="#222" stroke-width="0.9"/>
<rect x="232.75" y="318.20" width="4.75" height="6.80" fill="#000" stroke="#000" stroke-width="0.7"/>
<line x1="235.50" y1="316.94" x2="235.50" y2="319.46" stroke="#222" stroke-width="0.9"/>
<line x1="234.40" y1="316.94" x2="236.60" y2="316.94" stroke="#222" stroke-width="0.9"/>
<line x1="234.40" y1="319.46" x2="236.60" y2="319.46" stroke="#222" stroke-width="0.9"/>
<rect x="238.10" y="317.69" width="4.75" height="7.31" fill="#4d4d4d" stroke="#222" stroke-width="0.7"/>
<line x1="240.50" y1="315.05" x2="240.50" y2="320.34" stroke="#222" stroke-width="0.9"/>
<line x1="239.40" y1="315.05" x2="241.60" y2="315.05" stroke="#222" stroke-width="0.9"/>
<line x1="239.40" y1="320.34" x2="241.60" y2="320.34" stroke="#222" stroke-width="0.9"/>
<rect x="243.45" y="256.96" width="4.75" height="68.04" fill="#bfbfbf" stroke="#555" stroke-width="0.7"/>
<line x1="246.50" y1="253.68" x2="246.50" y2="260.24" stroke="#222" stroke-width="0.9"/>
<line x1="245.40" y1="253.68" x2="247.60" y2="253.68" stroke="#222" stroke-width="0.9"/>
<line x1="245.40" y1="260.24" x2="247.60" y2="260.24" stroke="#222" stroke-width="0.9"/>
<rect x="256.50" y="324.75" width="4.75" height="0.25" fill="#fff" stroke="#000" stroke-width="0.7"/>
<line x1="259.50" y1="321.22" x2="259.50" y2="328.28" stroke="#222" stroke-width="0.9"/>
<line x1="258.40" y1="321.22" x2="260.60" y2="321.22" stroke="#222" stroke-width="0.9"/>
<line x1="258.40" y1="328.28" x2="260.60" y2="328.28" stroke="#222" stroke-width="0.9"/>
<rect x="261.85" y="321.35" width="4.75" height="3.65" fill="#000" stroke="#000" stroke-width="0.7"/>
<line x1="264.50" y1="317.19" x2="264.50" y2="325.50" stroke="#222" stroke-width="0.9"/>
<line x1="263.40" y1="317.19" x2="265.60" y2="317.19" stroke="#222" stroke-width="0.9"/>
<line x1="263.40" y1="325.50" x2="265.60" y2="325.50" stroke="#222" stroke-width="0.9"/>
<rect x="267.20" y="325.00" width="4.75" height="6.55" fill="#4d4d4d" stroke="#222" stroke-width="0.7"/>
<line x1="269.50" y1="320.09" x2="269.50" y2="343.02" stroke="#222" stroke-width="0.9"/>
<line x1="268.40" y1="320.09" x2="270.60" y2="320.09" stroke="#222" stroke-width="0.9"/>
<line x1="268.40" y1="343.02" x2="270.60" y2="343.02" stroke="#222" stroke-width="0.9"/>
<rect x="272.55" y="297.28" width="4.75" height="27.72" fill="#bfbfbf" stroke="#555" stroke-width="0.7"/>
<line x1="275.50" y1="291.99" x2="275.50" y2="302.57" stroke="#222" stroke-width="0.9"/>
<line x1="274.40" y1="291.99" x2="276.60" y2="291.99" stroke="#222" stroke-width="0.9"/>
<line x1="274.40" y1="302.57" x2="276.60" y2="302.57" stroke="#222" stroke-width="0.9"/>
<rect x="285.60" y="324.75" width="4.75" height="0.25" fill="#fff" stroke="#000" stroke-width="0.7"/>
<line x1="288.50" y1="323.36" x2="288.50" y2="326.13" stroke="#222" stroke-width="0.9"/>
<line x1="287.40" y1="323.36" x2="289.60" y2="323.36" stroke="#222" stroke-width="0.9"/>
<line x1="287.40" y1="326.13" x2="289.60" y2="326.13" stroke="#222" stroke-width="0.9"/>
<rect x="290.95" y="283.17" width="4.75" height="41.83" fill="#000" stroke="#000" stroke-width="0.7"/>
<line x1="293.50" y1="278.51" x2="293.50" y2="287.83" stroke="#222" stroke-width="0.9"/>
<line x1="292.40" y1="278.51" x2="294.60" y2="278.51" stroke="#222" stroke-width="0.9"/>
<line x1="292.40" y1="287.83" x2="294.60" y2="287.83" stroke="#222" stroke-width="0.9"/>
<rect x="296.30" y="302.32" width="4.75" height="22.68" fill="#4d4d4d" stroke="#222" stroke-width="0.7"/>
<line x1="298.50" y1="296.27" x2="298.50" y2="308.37" stroke="#222" stroke-width="0.9"/>
<line x1="297.40" y1="296.27" x2="299.60" y2="296.27" stroke="#222" stroke-width="0.9"/>
<line x1="297.40" y1="308.37" x2="299.60" y2="308.37" stroke="#222" stroke-width="0.9"/>
<rect x="301.65" y="263.26" width="4.75" height="61.74" fill="#bfbfbf" stroke="#555" stroke-width="0.7"/>
<line x1="304.50" y1="253.31" x2="304.50" y2="273.21" stroke="#222" stroke-width="0.9"/>
<line x1="303.40" y1="253.31" x2="305.60" y2="253.31" stroke="#222" stroke-width="0.9"/>
<line x1="303.40" y1="273.21" x2="305.60" y2="273.21" stroke="#222" stroke-width="0.9"/>
<rect x="314.70" y="324.75" width="4.75" height="0.25" fill="#fff" stroke="#000" stroke-width="0.7"/>
<line x1="317.50" y1="318.57" x2="317.50" y2="330.92" stroke="#222" stroke-width="0.9"/>
<line x1="316.40" y1="318.57" x2="318.60" y2="318.57" stroke="#222" stroke-width="0.9"/>
<line x1="316.40" y1="330.92" x2="318.60" y2="330.92" stroke="#222" stroke-width="0.9"/>
<rect x="320.05" y="321.98" width="4.75" height="3.02" fill="#000" stroke="#000" stroke-width="0.7"/>
<line x1="322.50" y1="315.68" x2="322.50" y2="328.28" stroke="#222" stroke-width="0.9"/>
<line x1="321.40" y1="315.68" x2="323.60" y2="315.68" stroke="#222" stroke-width="0.9"/>
<line x1="321.40" y1="328.28" x2="323.60" y2="328.28" stroke="#222" stroke-width="0.9"/>
<rect x="325.40" y="325.00" width="4.75" height="3.40" fill="#4d4d4d" stroke="#222" stroke-width="0.7"/>
<line x1="328.50" y1="316.05" x2="328.50" y2="340.75" stroke="#222" stroke-width="0.9"/>
<line x1="327.40" y1="316.05" x2="329.60" y2="316.05" stroke="#222" stroke-width="0.9"/>
<line x1="327.40" y1="340.75" x2="329.60" y2="340.75" stroke="#222" stroke-width="0.9"/>
<rect x="330.75" y="282.16" width="4.75" height="42.84" fill="#bfbfbf" stroke="#555" stroke-width="0.7"/>
<line x1="333.50" y1="272.84" x2="333.50" y2="291.48" stroke="#222" stroke-width="0.9"/>
<line x1="332.40" y1="272.84" x2="334.60" y2="272.84" stroke="#222" stroke-width="0.9"/>
<line x1="332.40" y1="291.48" x2="334.60" y2="291.48" stroke="#222" stroke-width="0.9"/>
<circle cx="242.1" cy="250.7" r="1.35" fill="#111"/>
<circle cx="246.0" cy="250.7" r="1.35" fill="#111"/>
<circle cx="249.9" cy="250.7" r="1.35" fill="#111"/>
<circle cx="270.1" cy="287.5" r="1.35" fill="#111"/>
<circle cx="274.0" cy="287.5" r="1.35" fill="#111"/>
<circle cx="277.9" cy="287.5" r="1.35" fill="#111"/>
<circle cx="288.8" cy="271.0" r="1.35" fill="#111"/>
<circle cx="292.7" cy="271.0" r="1.35" fill="#111"/>
<circle cx="296.6" cy="271.0" r="1.35" fill="#111"/>
<circle cx="296.1" cy="280.5" r="1.35" fill="#111"/>
<circle cx="300.5" cy="280.5" r="1.35" fill="#111"/>
<circle cx="300.3" cy="250.3" r="1.35" fill="#111"/>
<circle cx="304.2" cy="250.3" r="1.35" fill="#111"/>
<circle cx="308.1" cy="250.3" r="1.35" fill="#111"/>
<circle cx="329.3" cy="267.4" r="1.35" fill="#111"/>
<circle cx="333.2" cy="267.4" r="1.35" fill="#111"/>
<circle cx="337.1" cy="267.4" r="1.35" fill="#111"/>
<text transform="translate(178.6,306.8) rotate(-90)" font-size="7.6" font-weight="bold" fill="#111">% Inhibition</text>
<rect x="246.60" y="208.70" width="5.40" height="6.40" fill="#fff" stroke="#222" stroke-width="0.8"/>
<text x="254.8" y="213.7" font-size="7.0" textLength="23" lengthAdjust="spacingAndGlyphs" fill="#111" stroke="#111" stroke-width="0.15">IgM+PBS</text>
<rect x="246.60" y="218.60" width="5.40" height="6.40" fill="#000" stroke="#000" stroke-width="0.8"/>
<text x="254.8" y="223.6" font-size="7.0" textLength="30" lengthAdjust="spacingAndGlyphs" fill="#111" stroke="#111" stroke-width="0.15">IgM+NXPH1</text>
<rect x="246.60" y="228.40" width="5.40" height="6.40" fill="#4d4d4d" stroke="#222" stroke-width="0.8"/>
<text x="254.8" y="233.4" font-size="7.0" textLength="41.5" lengthAdjust="spacingAndGlyphs" fill="#111" stroke="#111" stroke-width="0.15">Anti-DAG1+PBS</text>
<rect x="246.60" y="238.20" width="5.40" height="6.40" fill="#bfbfbf" stroke="#555" stroke-width="0.8"/>
<text x="254.8" y="243.2" font-size="7.0" textLength="47.5" lengthAdjust="spacingAndGlyphs" fill="#111" stroke="#111" stroke-width="0.15">Anti-DAG1+NXPH1</text>
<text x="207.7" y="359.6" font-size="6.5" font-weight="bold" text-anchor="middle" fill="#1a1a1a" stroke="#1a1a1a" stroke-width="0.3" textLength="9.6" lengthAdjust="spacingAndGlyphs">SCF</text>
<text x="237.0" y="359.6" font-size="6.5" font-weight="bold" text-anchor="middle" fill="#1a1a1a" stroke="#1a1a1a" stroke-width="0.3" textLength="23.4" lengthAdjust="spacingAndGlyphs">GM-CSF</text>
<text x="264.2" y="359.6" font-size="6.5" font-weight="bold" text-anchor="middle" fill="#1a1a1a" stroke="#1a1a1a" stroke-width="0.3" textLength="10.4" lengthAdjust="spacingAndGlyphs">IL-3</text>
<text x="294.5" y="359.6" font-size="6.5" font-weight="bold" text-anchor="middle" fill="#1a1a1a" stroke="#1a1a1a" stroke-width="0.3" textLength="26.6" lengthAdjust="spacingAndGlyphs">GM-CSF+</text>
<text x="294.0" y="368.8" font-size="6.5" font-weight="bold" text-anchor="middle" fill="#1a1a1a" stroke="#1a1a1a" stroke-width="0.3" textLength="9.4" lengthAdjust="spacingAndGlyphs">SCF</text>
<text x="323.9" y="359.6" font-size="6.5" font-weight="bold" text-anchor="middle" fill="#1a1a1a" stroke="#1a1a1a" stroke-width="0.3" textLength="14.2" lengthAdjust="spacingAndGlyphs">IL-3+</text>
<text x="323.5" y="368.8" font-size="6.5" font-weight="bold" text-anchor="middle" fill="#1a1a1a" stroke="#1a1a1a" stroke-width="0.3" textLength="9.2" lengthAdjust="spacingAndGlyphs">SCF</text>
<text x="353.4" y="200.1" font-size="10.8" font-weight="bold" text-anchor="start" fill="#000" >D</text>
<line x1="375.20" y1="237.00" x2="375.20" y2="349.90" stroke="#555" stroke-width="1.3"/>
<line x1="375.20" y1="349.90" x2="516.60" y2="349.90" stroke="#555" stroke-width="1.3"/>
<line x1="372.90" y1="349.89" x2="375.20" y2="349.89" stroke="#555" stroke-width="1"/>
<text x="372.1" y="352.2" font-size="6.8" font-weight="bold" text-anchor="end" fill="#222" >-30</text>
<line x1="372.90" y1="338.66" x2="375.20" y2="338.66" stroke="#555" stroke-width="1"/>
<text x="372.1" y="341.0" font-size="6.8" font-weight="bold" text-anchor="end" fill="#222" >-20</text>
<line x1="372.90" y1="327.43" x2="375.20" y2="327.43" stroke="#555" stroke-width="1"/>
<text x="372.1" y="329.7" font-size="6.8" font-weight="bold" text-anchor="end" fill="#222" >-10</text>
<line x1="372.90" y1="316.20" x2="375.20" y2="316.20" stroke="#555" stroke-width="1"/>
<text x="372.1" y="318.5" font-size="6.8" font-weight="bold" text-anchor="end" fill="#222" >0</text>
<line x1="372.90" y1="304.97" x2="375.20" y2="304.97" stroke="#555" stroke-width="1"/>
<text x="372.1" y="307.3" font-size="6.8" font-weight="bold" text-anchor="end" fill="#222" >10</text>
<line x1="372.90" y1="293.74" x2="375.20" y2="293.74" stroke="#555" stroke-width="1"/>
<text x="372.1" y="296.0" font-size="6.8" font-weight="bold" text-anchor="end" fill="#222" >20</text>
<line x1="372.90" y1="282.51" x2="375.20" y2="282.51" stroke="#555" stroke-width="1"/>
<text x="372.1" y="284.8" font-size="6.8" font-weight="bold" text-anchor="end" fill="#222" >30</text>
<line x1="372.90" y1="271.28" x2="375.20" y2="271.28" stroke="#555" stroke-width="1"/>
<text x="372.1" y="273.6" font-size="6.8" font-weight="bold" text-anchor="end" fill="#222" >40</text>
<line x1="372.90" y1="260.05" x2="375.20" y2="260.05" stroke="#555" stroke-width="1"/>
<text x="372.1" y="262.4" font-size="6.8" font-weight="bold" text-anchor="end" fill="#222" >50</text>
<line x1="372.90" y1="248.82" x2="375.20" y2="248.82" stroke="#555" stroke-width="1"/>
<text x="372.1" y="251.1" font-size="6.8" font-weight="bold" text-anchor="end" fill="#222" >60</text>
<line x1="372.90" y1="237.59" x2="375.20" y2="237.59" stroke="#555" stroke-width="1"/>
<text x="372.1" y="239.9" font-size="6.8" font-weight="bold" text-anchor="end" fill="#222" >70</text>
<line x1="375.20" y1="316.20" x2="516.60" y2="316.20" stroke="#333" stroke-width="1"/>
<rect x="379.20" y="315.98" width="6.00" height="0.22" fill="#fff" stroke="#000" stroke-width="0.7"/>
<line x1="382.50" y1="310.92" x2="382.50" y2="321.03" stroke="#222" stroke-width="0.9"/>
<line x1="381.40" y1="310.92" x2="383.60" y2="310.92" stroke="#222" stroke-width="0.9"/>
<line x1="381.40" y1="321.03" x2="383.60" y2="321.03" stroke="#222" stroke-width="0.9"/>
<rect x="385.80" y="314.63" width="6.00" height="1.57" fill="#000" stroke="#000" stroke-width="0.7"/>
<line x1="389.50" y1="311.48" x2="389.50" y2="317.77" stroke="#222" stroke-width="0.9"/>
<line x1="388.40" y1="311.48" x2="390.60" y2="311.48" stroke="#222" stroke-width="0.9"/>
<line x1="388.40" y1="317.77" x2="390.60" y2="317.77" stroke="#222" stroke-width="0.9"/>
<rect x="392.40" y="316.20" width="6.00" height="2.25" fill="#4d4d4d" stroke="#222" stroke-width="0.7"/>
<line x1="395.50" y1="310.81" x2="395.50" y2="326.08" stroke="#222" stroke-width="0.9"/>
<line x1="394.40" y1="310.81" x2="396.60" y2="310.81" stroke="#222" stroke-width="0.9"/>
<line x1="394.40" y1="326.08" x2="396.60" y2="326.08" stroke="#222" stroke-width="0.9"/>
<rect x="399.00" y="267.35" width="6.00" height="48.85" fill="#bfbfbf" stroke="#555" stroke-width="0.7"/>
<line x1="402.50" y1="256.23" x2="402.50" y2="278.47" stroke="#222" stroke-width="0.9"/>
<line x1="401.40" y1="256.23" x2="403.60" y2="256.23" stroke="#222" stroke-width="0.9"/>
<line x1="401.40" y1="278.47" x2="403.60" y2="278.47" stroke="#222" stroke-width="0.9"/>
<rect x="413.30" y="315.98" width="6.00" height="0.22" fill="#fff" stroke="#000" stroke-width="0.7"/>
<line x1="416.50" y1="293.18" x2="416.50" y2="338.77" stroke="#222" stroke-width="0.9"/>
<line x1="415.40" y1="293.18" x2="417.60" y2="293.18" stroke="#222" stroke-width="0.9"/>
<line x1="415.40" y1="338.77" x2="417.60" y2="338.77" stroke="#222" stroke-width="0.9"/>
<rect x="419.90" y="309.69" width="6.00" height="6.51" fill="#000" stroke="#000" stroke-width="0.7"/>
<line x1="423.50" y1="286.89" x2="423.50" y2="332.48" stroke="#222" stroke-width="0.9"/>
<line x1="422.40" y1="286.89" x2="424.60" y2="286.89" stroke="#222" stroke-width="0.9"/>
<line x1="422.40" y1="332.48" x2="424.60" y2="332.48" stroke="#222" stroke-width="0.9"/>
<rect x="426.50" y="295.99" width="6.00" height="20.21" fill="#4d4d4d" stroke="#222" stroke-width="0.7"/>
<line x1="429.50" y1="272.96" x2="429.50" y2="319.01" stroke="#222" stroke-width="0.9"/>
<line x1="428.40" y1="272.96" x2="430.60" y2="272.96" stroke="#222" stroke-width="0.9"/>
<line x1="428.40" y1="319.01" x2="430.60" y2="319.01" stroke="#222" stroke-width="0.9"/>
<rect x="433.10" y="263.42" width="6.00" height="52.78" fill="#bfbfbf" stroke="#555" stroke-width="0.7"/>
<line x1="436.50" y1="243.54" x2="436.50" y2="283.30" stroke="#222" stroke-width="0.9"/>
<line x1="435.40" y1="243.54" x2="437.60" y2="243.54" stroke="#222" stroke-width="0.9"/>
<line x1="435.40" y1="283.30" x2="437.60" y2="283.30" stroke="#222" stroke-width="0.9"/>
<rect x="447.40" y="315.98" width="6.00" height="0.22" fill="#fff" stroke="#000" stroke-width="0.7"/>
<line x1="450.50" y1="305.76" x2="450.50" y2="326.19" stroke="#222" stroke-width="0.9"/>
<line x1="449.40" y1="305.76" x2="451.60" y2="305.76" stroke="#222" stroke-width="0.9"/>
<line x1="449.40" y1="326.19" x2="451.60" y2="326.19" stroke="#222" stroke-width="0.9"/>
<rect x="454.00" y="316.20" width="6.00" height="5.62" fill="#000" stroke="#000" stroke-width="0.7"/>
<line x1="457.50" y1="304.30" x2="457.50" y2="339.33" stroke="#222" stroke-width="0.9"/>
<line x1="456.40" y1="304.30" x2="458.60" y2="304.30" stroke="#222" stroke-width="0.9"/>
<line x1="456.40" y1="339.33" x2="458.60" y2="339.33" stroke="#222" stroke-width="0.9"/>
<rect x="460.60" y="310.36" width="6.00" height="5.84" fill="#4d4d4d" stroke="#222" stroke-width="0.7"/>
<line x1="463.50" y1="300.48" x2="463.50" y2="320.24" stroke="#222" stroke-width="0.9"/>
<line x1="462.40" y1="300.48" x2="464.60" y2="300.48" stroke="#222" stroke-width="0.9"/>
<line x1="462.40" y1="320.24" x2="464.60" y2="320.24" stroke="#222" stroke-width="0.9"/>
<rect x="467.20" y="265.33" width="6.00" height="50.87" fill="#bfbfbf" stroke="#555" stroke-width="0.7"/>
<line x1="470.50" y1="246.01" x2="470.50" y2="284.64" stroke="#222" stroke-width="0.9"/>
<line x1="469.40" y1="246.01" x2="471.60" y2="246.01" stroke="#222" stroke-width="0.9"/>
<line x1="469.40" y1="284.64" x2="471.60" y2="284.64" stroke="#222" stroke-width="0.9"/>
<rect x="481.50" y="315.98" width="6.00" height="0.22" fill="#fff" stroke="#000" stroke-width="0.7"/>
<line x1="484.50" y1="313.62" x2="484.50" y2="318.33" stroke="#222" stroke-width="0.9"/>
<line x1="483.40" y1="313.62" x2="485.60" y2="313.62" stroke="#222" stroke-width="0.9"/>
<line x1="483.40" y1="318.33" x2="485.60" y2="318.33" stroke="#222" stroke-width="0.9"/>
<rect x="488.10" y="313.06" width="6.00" height="3.14" fill="#000" stroke="#000" stroke-width="0.7"/>
<line x1="491.50" y1="311.03" x2="491.50" y2="315.08" stroke="#222" stroke-width="0.9"/>
<line x1="490.40" y1="311.03" x2="492.60" y2="311.03" stroke="#222" stroke-width="0.9"/>
<line x1="490.40" y1="315.08" x2="492.60" y2="315.08" stroke="#222" stroke-width="0.9"/>
<rect x="494.70" y="315.53" width="6.00" height="0.67" fill="#4d4d4d" stroke="#222" stroke-width="0.7"/>
<line x1="498.50" y1="312.38" x2="498.50" y2="318.67" stroke="#222" stroke-width="0.9"/>
<line x1="497.40" y1="312.38" x2="499.60" y2="312.38" stroke="#222" stroke-width="0.9"/>
<line x1="497.40" y1="318.67" x2="499.60" y2="318.67" stroke="#222" stroke-width="0.9"/>
<rect x="501.30" y="270.38" width="6.00" height="45.82" fill="#bfbfbf" stroke="#555" stroke-width="0.7"/>
<line x1="504.50" y1="255.22" x2="504.50" y2="285.54" stroke="#222" stroke-width="0.9"/>
<line x1="503.40" y1="255.22" x2="505.60" y2="255.22" stroke="#222" stroke-width="0.9"/>
<line x1="503.40" y1="285.54" x2="505.60" y2="285.54" stroke="#222" stroke-width="0.9"/>
<circle cx="399.1" cy="251.3" r="1.35" fill="#111"/>
<circle cx="403.6" cy="251.3" r="1.35" fill="#111"/>
<circle cx="436.2" cy="239.0" r="1.35" fill="#111"/>
<circle cx="470.3" cy="241.7" r="1.35" fill="#111"/>
<circle cx="504.0" cy="250.7" r="1.35" fill="#111"/>
<text transform="translate(360.8,309.0) rotate(-90)" font-size="8.3" font-weight="bold" fill="#111">% Inhibition</text>
<rect x="429.80" y="194.40" width="5.40" height="6.40" fill="#fff" stroke="#222" stroke-width="0.8"/>
<text x="437.8" y="199.4" font-size="7.0" textLength="23.5" lengthAdjust="spacingAndGlyphs" fill="#111" stroke="#111" stroke-width="0.15">IgM+PBS</text>
<rect x="429.80" y="204.30" width="5.40" height="6.40" fill="#000" stroke="#000" stroke-width="0.8"/>
<text x="437.8" y="209.3" font-size="7.0" textLength="30" lengthAdjust="spacingAndGlyphs" fill="#111" stroke="#111" stroke-width="0.15">IgM+NXPH1</text>
<rect x="429.80" y="214.20" width="5.40" height="6.40" fill="#4d4d4d" stroke="#222" stroke-width="0.8"/>
<text x="437.8" y="219.2" font-size="7.0" textLength="41.5" lengthAdjust="spacingAndGlyphs" fill="#111" stroke="#111" stroke-width="0.15">Anti-DAG1+PBS</text>
<rect x="429.80" y="224.20" width="5.40" height="6.40" fill="#bfbfbf" stroke="#555" stroke-width="0.8"/>
<text x="437.8" y="229.2" font-size="7.0" textLength="47.5" lengthAdjust="spacingAndGlyphs" fill="#111" stroke="#111" stroke-width="0.15">Anti-DAG1+NXPH1</text>
<text x="391.7" y="360.0" font-size="6.6" font-weight="bold" text-anchor="middle" fill="#1a1a1a" stroke="#1a1a1a" stroke-width="0.2" textLength="24.4" lengthAdjust="spacingAndGlyphs">CFU-GM</text>
<text x="426.9" y="360.0" font-size="6.6" font-weight="bold" text-anchor="middle" fill="#1a1a1a" stroke="#1a1a1a" stroke-width="0.2" textLength="17.2" lengthAdjust="spacingAndGlyphs">BFU-E</text>
<text x="461.3" y="360.0" font-size="6.6" font-weight="bold" text-anchor="middle" fill="#1a1a1a" stroke="#1a1a1a" stroke-width="0.2" textLength="34.4" lengthAdjust="spacingAndGlyphs">CFU-GEMM</text>
<text x="496.3" y="360.0" font-size="6.6" font-weight="bold" text-anchor="middle" fill="#1a1a1a" stroke="#1a1a1a" stroke-width="0.2" textLength="13.6" lengthAdjust="spacingAndGlyphs">Total</text>
<text x="496.3" y="368.8" font-size="6.6" font-weight="bold" text-anchor="middle" fill="#1a1a1a" stroke="#1a1a1a" stroke-width="0.2" textLength="24.4" lengthAdjust="spacingAndGlyphs">Colonies</text>
</g>
</svg></body></html>
